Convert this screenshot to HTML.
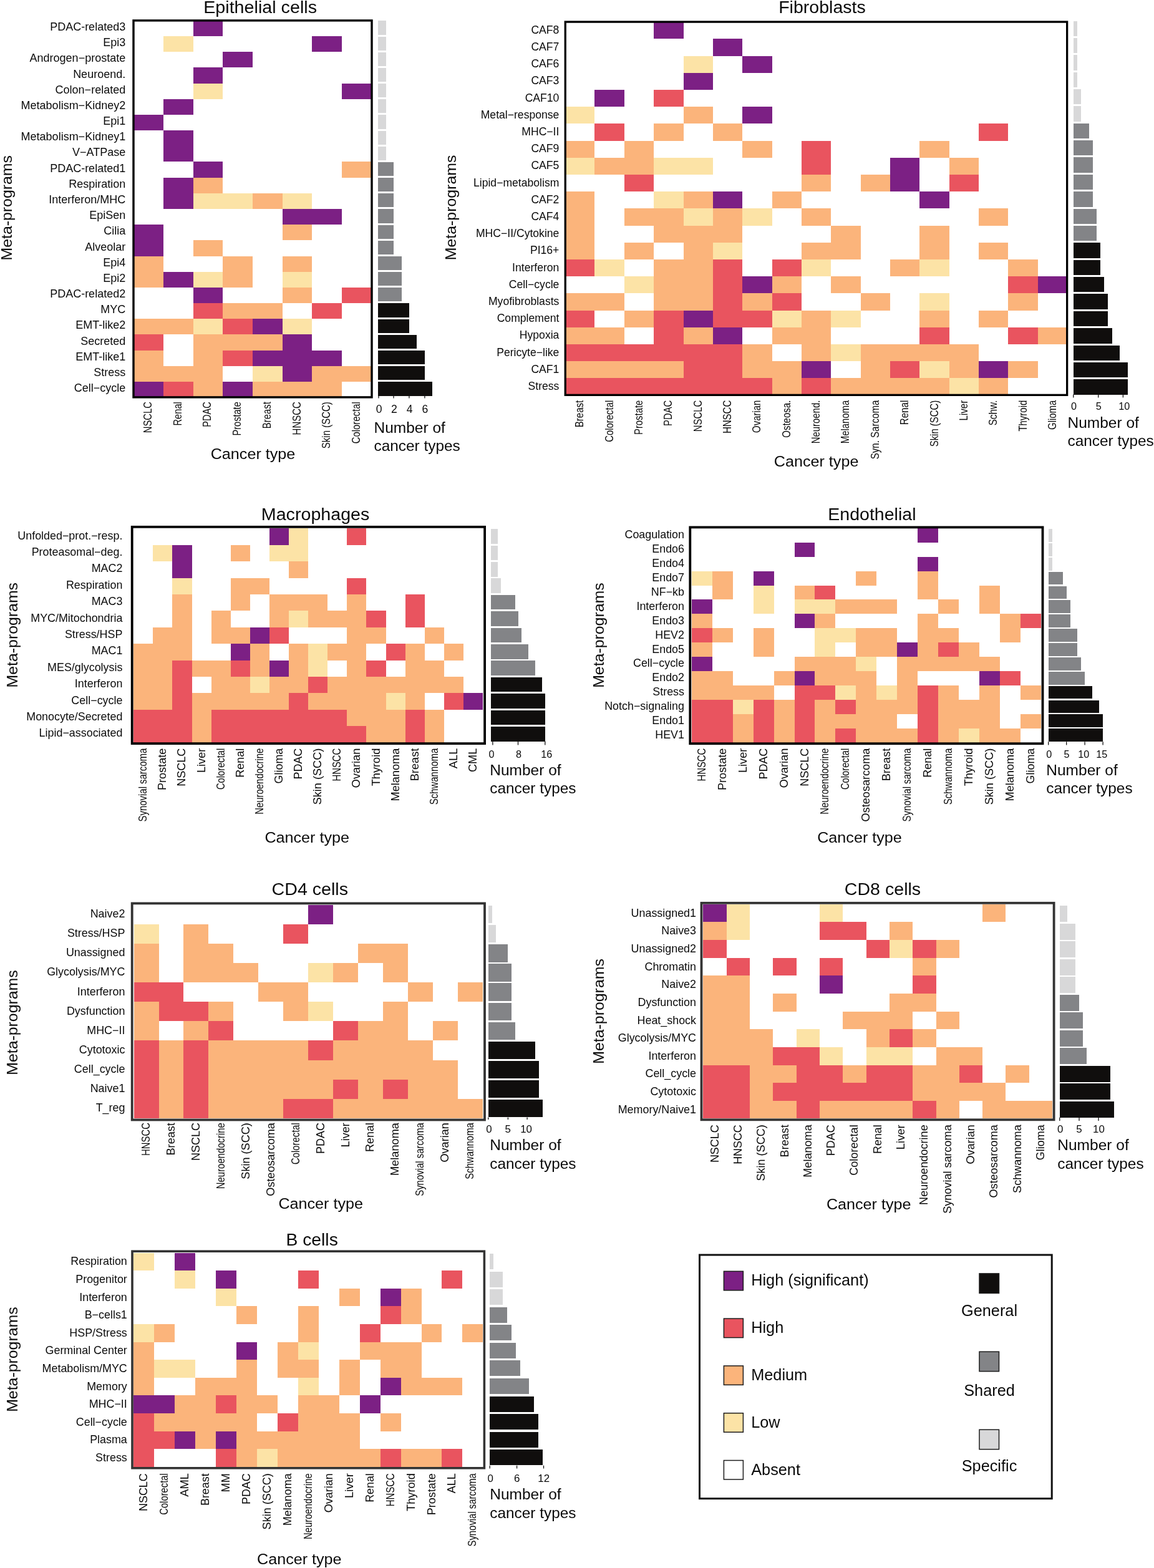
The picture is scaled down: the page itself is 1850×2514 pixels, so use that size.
<!DOCTYPE html>
<html><head><meta charset="utf-8"><title>Meta-programs heatmaps</title>
<style>
html,body{margin:0;padding:0;background:#fff;}
svg{display:block;}
text{font-family:'Liberation Sans', Arial, Helvetica, sans-serif;fill:#0a0a0a;}
</style></head>
<body>
<svg width="1850" height="2514" viewBox="0 0 1850 2514">
<rect width="1850" height="2514" fill="#fff"/>
<rect x="309.54" y="32.80" width="47.72" height="25.18" fill="#7C2084" shape-rendering="crispEdges"/>
<rect x="261.82" y="57.98" width="47.72" height="25.18" fill="#FCE3A6" shape-rendering="crispEdges"/>
<rect x="500.42" y="57.98" width="47.72" height="25.18" fill="#7C2084" shape-rendering="crispEdges"/>
<rect x="357.26" y="83.16" width="47.72" height="25.18" fill="#7C2084" shape-rendering="crispEdges"/>
<rect x="309.54" y="108.34" width="47.72" height="25.18" fill="#7C2084" shape-rendering="crispEdges"/>
<rect x="309.54" y="133.52" width="47.72" height="25.18" fill="#FCE3A6" shape-rendering="crispEdges"/>
<rect x="548.14" y="133.52" width="47.72" height="25.18" fill="#7C2084" shape-rendering="crispEdges"/>
<rect x="261.82" y="158.70" width="47.72" height="25.18" fill="#7C2084" shape-rendering="crispEdges"/>
<rect x="214.10" y="183.88" width="47.72" height="25.18" fill="#7C2084" shape-rendering="crispEdges"/>
<rect x="261.82" y="209.06" width="47.72" height="25.18" fill="#7C2084" shape-rendering="crispEdges"/>
<rect x="261.82" y="234.24" width="47.72" height="25.18" fill="#7C2084" shape-rendering="crispEdges"/>
<rect x="309.54" y="259.42" width="47.72" height="25.18" fill="#7C2084" shape-rendering="crispEdges"/>
<rect x="548.14" y="259.42" width="47.72" height="25.18" fill="#FBB47B" shape-rendering="crispEdges"/>
<rect x="261.82" y="284.60" width="47.72" height="25.18" fill="#7C2084" shape-rendering="crispEdges"/>
<rect x="309.54" y="284.60" width="47.72" height="25.18" fill="#FBB47B" shape-rendering="crispEdges"/>
<rect x="261.82" y="309.78" width="47.72" height="25.18" fill="#7C2084" shape-rendering="crispEdges"/>
<rect x="309.54" y="309.78" width="47.72" height="25.18" fill="#FCE3A6" shape-rendering="crispEdges"/>
<rect x="357.26" y="309.78" width="47.72" height="25.18" fill="#FCE3A6" shape-rendering="crispEdges"/>
<rect x="404.98" y="309.78" width="47.72" height="25.18" fill="#FBB47B" shape-rendering="crispEdges"/>
<rect x="452.70" y="309.78" width="47.72" height="25.18" fill="#FCE3A6" shape-rendering="crispEdges"/>
<rect x="452.70" y="334.96" width="47.72" height="25.18" fill="#7C2084" shape-rendering="crispEdges"/>
<rect x="500.42" y="334.96" width="47.72" height="25.18" fill="#7C2084" shape-rendering="crispEdges"/>
<rect x="214.10" y="360.14" width="47.72" height="25.18" fill="#7C2084" shape-rendering="crispEdges"/>
<rect x="452.70" y="360.14" width="47.72" height="25.18" fill="#FBB47B" shape-rendering="crispEdges"/>
<rect x="214.10" y="385.32" width="47.72" height="25.18" fill="#7C2084" shape-rendering="crispEdges"/>
<rect x="309.54" y="385.32" width="47.72" height="25.18" fill="#FBB47B" shape-rendering="crispEdges"/>
<rect x="214.10" y="410.50" width="47.72" height="25.18" fill="#FBB47B" shape-rendering="crispEdges"/>
<rect x="357.26" y="410.50" width="47.72" height="25.18" fill="#FBB47B" shape-rendering="crispEdges"/>
<rect x="452.70" y="410.50" width="47.72" height="25.18" fill="#FBB47B" shape-rendering="crispEdges"/>
<rect x="214.10" y="435.68" width="47.72" height="25.18" fill="#FBB47B" shape-rendering="crispEdges"/>
<rect x="261.82" y="435.68" width="47.72" height="25.18" fill="#7C2084" shape-rendering="crispEdges"/>
<rect x="309.54" y="435.68" width="47.72" height="25.18" fill="#FCE3A6" shape-rendering="crispEdges"/>
<rect x="357.26" y="435.68" width="47.72" height="25.18" fill="#FBB47B" shape-rendering="crispEdges"/>
<rect x="452.70" y="435.68" width="47.72" height="25.18" fill="#FCE3A6" shape-rendering="crispEdges"/>
<rect x="309.54" y="460.86" width="47.72" height="25.18" fill="#7C2084" shape-rendering="crispEdges"/>
<rect x="452.70" y="460.86" width="47.72" height="25.18" fill="#FBB47B" shape-rendering="crispEdges"/>
<rect x="548.14" y="460.86" width="47.72" height="25.18" fill="#E9545F" shape-rendering="crispEdges"/>
<rect x="309.54" y="486.04" width="47.72" height="25.18" fill="#E9545F" shape-rendering="crispEdges"/>
<rect x="357.26" y="486.04" width="47.72" height="25.18" fill="#FBB47B" shape-rendering="crispEdges"/>
<rect x="404.98" y="486.04" width="47.72" height="25.18" fill="#FBB47B" shape-rendering="crispEdges"/>
<rect x="500.42" y="486.04" width="47.72" height="25.18" fill="#E9545F" shape-rendering="crispEdges"/>
<rect x="214.10" y="511.22" width="47.72" height="25.18" fill="#FBB47B" shape-rendering="crispEdges"/>
<rect x="261.82" y="511.22" width="47.72" height="25.18" fill="#FBB47B" shape-rendering="crispEdges"/>
<rect x="309.54" y="511.22" width="47.72" height="25.18" fill="#FCE3A6" shape-rendering="crispEdges"/>
<rect x="357.26" y="511.22" width="47.72" height="25.18" fill="#E9545F" shape-rendering="crispEdges"/>
<rect x="404.98" y="511.22" width="47.72" height="25.18" fill="#7C2084" shape-rendering="crispEdges"/>
<rect x="452.70" y="511.22" width="47.72" height="25.18" fill="#FCE3A6" shape-rendering="crispEdges"/>
<rect x="214.10" y="536.40" width="47.72" height="25.18" fill="#E9545F" shape-rendering="crispEdges"/>
<rect x="309.54" y="536.40" width="47.72" height="25.18" fill="#FBB47B" shape-rendering="crispEdges"/>
<rect x="357.26" y="536.40" width="47.72" height="25.18" fill="#FBB47B" shape-rendering="crispEdges"/>
<rect x="404.98" y="536.40" width="47.72" height="25.18" fill="#FBB47B" shape-rendering="crispEdges"/>
<rect x="452.70" y="536.40" width="47.72" height="25.18" fill="#7C2084" shape-rendering="crispEdges"/>
<rect x="214.10" y="561.58" width="47.72" height="25.18" fill="#FBB47B" shape-rendering="crispEdges"/>
<rect x="309.54" y="561.58" width="47.72" height="25.18" fill="#FBB47B" shape-rendering="crispEdges"/>
<rect x="357.26" y="561.58" width="47.72" height="25.18" fill="#E9545F" shape-rendering="crispEdges"/>
<rect x="404.98" y="561.58" width="47.72" height="25.18" fill="#7C2084" shape-rendering="crispEdges"/>
<rect x="452.70" y="561.58" width="47.72" height="25.18" fill="#7C2084" shape-rendering="crispEdges"/>
<rect x="500.42" y="561.58" width="47.72" height="25.18" fill="#7C2084" shape-rendering="crispEdges"/>
<rect x="214.10" y="586.76" width="47.72" height="25.18" fill="#FBB47B" shape-rendering="crispEdges"/>
<rect x="261.82" y="586.76" width="47.72" height="25.18" fill="#FBB47B" shape-rendering="crispEdges"/>
<rect x="309.54" y="586.76" width="47.72" height="25.18" fill="#FBB47B" shape-rendering="crispEdges"/>
<rect x="404.98" y="586.76" width="47.72" height="25.18" fill="#FCE3A6" shape-rendering="crispEdges"/>
<rect x="452.70" y="586.76" width="47.72" height="25.18" fill="#7C2084" shape-rendering="crispEdges"/>
<rect x="500.42" y="586.76" width="47.72" height="25.18" fill="#FBB47B" shape-rendering="crispEdges"/>
<rect x="548.14" y="586.76" width="47.72" height="25.18" fill="#FBB47B" shape-rendering="crispEdges"/>
<rect x="214.10" y="611.94" width="47.72" height="25.18" fill="#7C2084" shape-rendering="crispEdges"/>
<rect x="261.82" y="611.94" width="47.72" height="25.18" fill="#E9545F" shape-rendering="crispEdges"/>
<rect x="309.54" y="611.94" width="47.72" height="25.18" fill="#FBB47B" shape-rendering="crispEdges"/>
<rect x="357.26" y="611.94" width="47.72" height="25.18" fill="#7C2084" shape-rendering="crispEdges"/>
<rect x="404.98" y="611.94" width="47.72" height="25.18" fill="#FBB47B" shape-rendering="crispEdges"/>
<rect x="452.70" y="611.94" width="47.72" height="25.18" fill="#FBB47B" shape-rendering="crispEdges"/>
<rect x="500.42" y="611.94" width="47.72" height="25.18" fill="#FBB47B" shape-rendering="crispEdges"/>
<rect x="214.00" y="32.90" width="382.00" height="604.00" fill="none" stroke="#000" stroke-width="3.4"/>
<text x="201.2" y="49.0" font-size="18" text-anchor="end">PDAC-related3</text>
<text x="201.2" y="74.2" font-size="18" text-anchor="end">Epi3</text>
<text x="201.2" y="99.3" font-size="18" text-anchor="end">Androgen−prostate</text>
<text x="201.2" y="124.5" font-size="18" text-anchor="end">Neuroend.</text>
<text x="201.2" y="149.7" font-size="18" text-anchor="end">Colon−related</text>
<text x="201.2" y="174.9" font-size="18" text-anchor="end">Metabolism−Kidney2</text>
<text x="201.2" y="200.1" font-size="18" text-anchor="end">Epi1</text>
<text x="201.2" y="225.2" font-size="18" text-anchor="end">Metabolism−Kidney1</text>
<text x="201.2" y="250.4" font-size="18" text-anchor="end">V−ATPase</text>
<text x="201.2" y="275.6" font-size="18" text-anchor="end">PDAC-related1</text>
<text x="201.2" y="300.8" font-size="18" text-anchor="end">Respiration</text>
<text x="201.2" y="326.0" font-size="18" text-anchor="end">Interferon/MHC</text>
<text x="201.2" y="351.2" font-size="18" text-anchor="end">EpiSen</text>
<text x="201.2" y="376.3" font-size="18" text-anchor="end">Cilia</text>
<text x="201.2" y="401.5" font-size="18" text-anchor="end">Alveolar</text>
<text x="201.2" y="426.7" font-size="18" text-anchor="end">Epi4</text>
<text x="201.2" y="451.9" font-size="18" text-anchor="end">Epi2</text>
<text x="201.2" y="477.1" font-size="18" text-anchor="end">PDAC-related2</text>
<text x="201.2" y="502.2" font-size="18" text-anchor="end">MYC</text>
<text x="201.2" y="527.4" font-size="18" text-anchor="end">EMT-like2</text>
<text x="201.2" y="552.6" font-size="18" text-anchor="end">Secreted</text>
<text x="201.2" y="577.8" font-size="18" text-anchor="end">EMT-like1</text>
<text x="201.2" y="602.9" font-size="18" text-anchor="end">Stress</text>
<text x="201.2" y="628.1" font-size="18" text-anchor="end">Cell−cycle</text>
<text transform="translate(243.0,644.2) rotate(-90)" font-size="18.2" text-anchor="end" textLength="50.0" lengthAdjust="spacingAndGlyphs">NSCLC</text>
<text transform="translate(290.7,644.2) rotate(-90)" font-size="18.2" text-anchor="end" textLength="38.3" lengthAdjust="spacingAndGlyphs">Renal</text>
<text transform="translate(338.4,644.2) rotate(-90)" font-size="18.2" text-anchor="end" textLength="40.5" lengthAdjust="spacingAndGlyphs">PDAC</text>
<text transform="translate(386.1,644.2) rotate(-90)" font-size="18.2" text-anchor="end" textLength="54.4" lengthAdjust="spacingAndGlyphs">Prostate</text>
<text transform="translate(433.8,644.2) rotate(-90)" font-size="18.2" text-anchor="end" textLength="43.0" lengthAdjust="spacingAndGlyphs">Breast</text>
<text transform="translate(481.6,644.2) rotate(-90)" font-size="18.2" text-anchor="end" textLength="53.2" lengthAdjust="spacingAndGlyphs">HNSCC</text>
<text transform="translate(529.3,644.2) rotate(-90)" font-size="18.2" text-anchor="end" textLength="75.0" lengthAdjust="spacingAndGlyphs">Skin (SCC)</text>
<text transform="translate(577.0,644.2) rotate(-90)" font-size="18.2" text-anchor="end" textLength="67.1" lengthAdjust="spacingAndGlyphs">Colorectal</text>
<rect x="606.30" y="33.40" width="12.35" height="22.20" fill="#D8D8D9" shape-rendering="crispEdges"/>
<rect x="606.30" y="58.57" width="12.35" height="22.20" fill="#D8D8D9" shape-rendering="crispEdges"/>
<rect x="606.30" y="83.74" width="12.35" height="22.20" fill="#D8D8D9" shape-rendering="crispEdges"/>
<rect x="606.30" y="108.91" width="12.35" height="22.20" fill="#D8D8D9" shape-rendering="crispEdges"/>
<rect x="606.30" y="134.08" width="12.35" height="22.20" fill="#D8D8D9" shape-rendering="crispEdges"/>
<rect x="606.30" y="159.25" width="12.35" height="22.20" fill="#D8D8D9" shape-rendering="crispEdges"/>
<rect x="606.30" y="184.42" width="12.35" height="22.20" fill="#D8D8D9" shape-rendering="crispEdges"/>
<rect x="606.30" y="209.59" width="12.35" height="22.20" fill="#D8D8D9" shape-rendering="crispEdges"/>
<rect x="606.30" y="234.76" width="12.35" height="22.20" fill="#D8D8D9" shape-rendering="crispEdges"/>
<rect x="606.30" y="259.93" width="24.80" height="22.20" fill="#838487" shape-rendering="crispEdges"/>
<rect x="606.30" y="285.10" width="24.80" height="22.20" fill="#838487" shape-rendering="crispEdges"/>
<rect x="606.30" y="310.27" width="24.80" height="22.20" fill="#838487" shape-rendering="crispEdges"/>
<rect x="606.30" y="335.44" width="24.80" height="22.20" fill="#838487" shape-rendering="crispEdges"/>
<rect x="606.30" y="360.61" width="24.80" height="22.20" fill="#838487" shape-rendering="crispEdges"/>
<rect x="606.30" y="385.78" width="24.80" height="22.20" fill="#838487" shape-rendering="crispEdges"/>
<rect x="606.30" y="410.95" width="37.25" height="22.20" fill="#838487" shape-rendering="crispEdges"/>
<rect x="606.30" y="436.12" width="37.25" height="22.20" fill="#838487" shape-rendering="crispEdges"/>
<rect x="606.30" y="461.29" width="37.25" height="22.20" fill="#838487" shape-rendering="crispEdges"/>
<rect x="606.30" y="486.46" width="49.70" height="22.20" fill="#100E0D" shape-rendering="crispEdges"/>
<rect x="606.30" y="511.63" width="49.70" height="22.20" fill="#100E0D" shape-rendering="crispEdges"/>
<rect x="606.30" y="536.80" width="62.15" height="22.20" fill="#100E0D" shape-rendering="crispEdges"/>
<rect x="606.30" y="561.97" width="74.60" height="22.20" fill="#100E0D" shape-rendering="crispEdges"/>
<rect x="606.30" y="587.14" width="74.60" height="22.20" fill="#100E0D" shape-rendering="crispEdges"/>
<rect x="606.30" y="612.31" width="87.05" height="22.20" fill="#100E0D" shape-rendering="crispEdges"/>
<line x1="607.00" y1="634.00" x2="607.00" y2="638.60" stroke="#111" stroke-width="1.3"/>
<text x="607.6" y="661.5" font-size="17.6" text-anchor="middle">0</text>
<line x1="631.00" y1="634.00" x2="631.00" y2="638.60" stroke="#111" stroke-width="1.3"/>
<text x="632.0" y="661.5" font-size="17.6" text-anchor="middle">2</text>
<line x1="655.90" y1="634.00" x2="655.90" y2="638.60" stroke="#111" stroke-width="1.3"/>
<text x="656.6" y="661.5" font-size="17.6" text-anchor="middle">4</text>
<line x1="680.90" y1="634.00" x2="680.90" y2="638.60" stroke="#111" stroke-width="1.3"/>
<text x="681.5" y="661.5" font-size="17.6" text-anchor="middle">6</text>
<text x="417.1" y="21.1" font-size="28.4" text-anchor="middle" textLength="181.9" lengthAdjust="spacingAndGlyphs">Epithelial cells</text>
<text x="405.5" y="736.4" font-size="24.3" text-anchor="middle" textLength="135.6" lengthAdjust="spacingAndGlyphs">Cancer type</text>
<text x="599.5" y="693.6" font-size="24.2" text-anchor="start" textLength="114.4" lengthAdjust="spacingAndGlyphs">Number of</text>
<text x="599.5" y="722.8" font-size="24.2" text-anchor="start" textLength="138.3" lengthAdjust="spacingAndGlyphs">cancer types</text>
<text transform="translate(18.6,333.3) rotate(-90)" font-size="24.7" text-anchor="middle" textLength="168.5" lengthAdjust="spacingAndGlyphs">Meta-programs</text>
<rect x="1048.15" y="35.10" width="47.35" height="27.20" fill="#7C2084" shape-rendering="crispEdges"/>
<rect x="1142.85" y="62.30" width="47.35" height="27.20" fill="#7C2084" shape-rendering="crispEdges"/>
<rect x="1095.50" y="89.50" width="47.35" height="27.20" fill="#FCE3A6" shape-rendering="crispEdges"/>
<rect x="1190.20" y="89.50" width="47.35" height="27.20" fill="#7C2084" shape-rendering="crispEdges"/>
<rect x="1095.50" y="116.70" width="47.35" height="27.20" fill="#7C2084" shape-rendering="crispEdges"/>
<rect x="953.45" y="143.90" width="47.35" height="27.20" fill="#7C2084" shape-rendering="crispEdges"/>
<rect x="1048.15" y="143.90" width="47.35" height="27.20" fill="#E9545F" shape-rendering="crispEdges"/>
<rect x="906.10" y="171.10" width="47.35" height="27.20" fill="#FCE3A6" shape-rendering="crispEdges"/>
<rect x="1095.50" y="171.10" width="47.35" height="27.20" fill="#FBB47B" shape-rendering="crispEdges"/>
<rect x="1190.20" y="171.10" width="47.35" height="27.20" fill="#7C2084" shape-rendering="crispEdges"/>
<rect x="953.45" y="198.30" width="47.35" height="27.20" fill="#E9545F" shape-rendering="crispEdges"/>
<rect x="1048.15" y="198.30" width="47.35" height="27.20" fill="#FBB47B" shape-rendering="crispEdges"/>
<rect x="1142.85" y="198.30" width="47.35" height="27.20" fill="#FBB47B" shape-rendering="crispEdges"/>
<rect x="1569.00" y="198.30" width="47.35" height="27.20" fill="#E9545F" shape-rendering="crispEdges"/>
<rect x="906.10" y="225.50" width="47.35" height="27.20" fill="#FBB47B" shape-rendering="crispEdges"/>
<rect x="1000.80" y="225.50" width="47.35" height="27.20" fill="#FBB47B" shape-rendering="crispEdges"/>
<rect x="1190.20" y="225.50" width="47.35" height="27.20" fill="#FBB47B" shape-rendering="crispEdges"/>
<rect x="1284.90" y="225.50" width="47.35" height="27.20" fill="#E9545F" shape-rendering="crispEdges"/>
<rect x="1474.30" y="225.50" width="47.35" height="27.20" fill="#FBB47B" shape-rendering="crispEdges"/>
<rect x="906.10" y="252.70" width="47.35" height="27.20" fill="#FCE3A6" shape-rendering="crispEdges"/>
<rect x="953.45" y="252.70" width="47.35" height="27.20" fill="#FBB47B" shape-rendering="crispEdges"/>
<rect x="1000.80" y="252.70" width="47.35" height="27.20" fill="#FBB47B" shape-rendering="crispEdges"/>
<rect x="1048.15" y="252.70" width="47.35" height="27.20" fill="#FCE3A6" shape-rendering="crispEdges"/>
<rect x="1095.50" y="252.70" width="47.35" height="27.20" fill="#FCE3A6" shape-rendering="crispEdges"/>
<rect x="1284.90" y="252.70" width="47.35" height="27.20" fill="#E9545F" shape-rendering="crispEdges"/>
<rect x="1426.95" y="252.70" width="47.35" height="27.20" fill="#7C2084" shape-rendering="crispEdges"/>
<rect x="1521.65" y="252.70" width="47.35" height="27.20" fill="#FBB47B" shape-rendering="crispEdges"/>
<rect x="1000.80" y="279.90" width="47.35" height="27.20" fill="#E9545F" shape-rendering="crispEdges"/>
<rect x="1284.90" y="279.90" width="47.35" height="27.20" fill="#FBB47B" shape-rendering="crispEdges"/>
<rect x="1379.60" y="279.90" width="47.35" height="27.20" fill="#FBB47B" shape-rendering="crispEdges"/>
<rect x="1426.95" y="279.90" width="47.35" height="27.20" fill="#7C2084" shape-rendering="crispEdges"/>
<rect x="1521.65" y="279.90" width="47.35" height="27.20" fill="#E9545F" shape-rendering="crispEdges"/>
<rect x="906.10" y="307.10" width="47.35" height="27.20" fill="#FBB47B" shape-rendering="crispEdges"/>
<rect x="1048.15" y="307.10" width="47.35" height="27.20" fill="#FCE3A6" shape-rendering="crispEdges"/>
<rect x="1095.50" y="307.10" width="47.35" height="27.20" fill="#FBB47B" shape-rendering="crispEdges"/>
<rect x="1142.85" y="307.10" width="47.35" height="27.20" fill="#7C2084" shape-rendering="crispEdges"/>
<rect x="1237.55" y="307.10" width="47.35" height="27.20" fill="#FBB47B" shape-rendering="crispEdges"/>
<rect x="1474.30" y="307.10" width="47.35" height="27.20" fill="#7C2084" shape-rendering="crispEdges"/>
<rect x="906.10" y="334.30" width="47.35" height="27.20" fill="#FBB47B" shape-rendering="crispEdges"/>
<rect x="1000.80" y="334.30" width="47.35" height="27.20" fill="#FBB47B" shape-rendering="crispEdges"/>
<rect x="1048.15" y="334.30" width="47.35" height="27.20" fill="#FBB47B" shape-rendering="crispEdges"/>
<rect x="1095.50" y="334.30" width="47.35" height="27.20" fill="#FCE3A6" shape-rendering="crispEdges"/>
<rect x="1142.85" y="334.30" width="47.35" height="27.20" fill="#FBB47B" shape-rendering="crispEdges"/>
<rect x="1190.20" y="334.30" width="47.35" height="27.20" fill="#FCE3A6" shape-rendering="crispEdges"/>
<rect x="1284.90" y="334.30" width="47.35" height="27.20" fill="#FBB47B" shape-rendering="crispEdges"/>
<rect x="1569.00" y="334.30" width="47.35" height="27.20" fill="#FBB47B" shape-rendering="crispEdges"/>
<rect x="906.10" y="361.50" width="47.35" height="27.20" fill="#FBB47B" shape-rendering="crispEdges"/>
<rect x="1048.15" y="361.50" width="47.35" height="27.20" fill="#FBB47B" shape-rendering="crispEdges"/>
<rect x="1095.50" y="361.50" width="47.35" height="27.20" fill="#FBB47B" shape-rendering="crispEdges"/>
<rect x="1142.85" y="361.50" width="47.35" height="27.20" fill="#FBB47B" shape-rendering="crispEdges"/>
<rect x="1332.25" y="361.50" width="47.35" height="27.20" fill="#FBB47B" shape-rendering="crispEdges"/>
<rect x="1474.30" y="361.50" width="47.35" height="27.20" fill="#FBB47B" shape-rendering="crispEdges"/>
<rect x="906.10" y="388.70" width="47.35" height="27.20" fill="#FBB47B" shape-rendering="crispEdges"/>
<rect x="1000.80" y="388.70" width="47.35" height="27.20" fill="#FBB47B" shape-rendering="crispEdges"/>
<rect x="1095.50" y="388.70" width="47.35" height="27.20" fill="#FBB47B" shape-rendering="crispEdges"/>
<rect x="1142.85" y="388.70" width="47.35" height="27.20" fill="#FCE3A6" shape-rendering="crispEdges"/>
<rect x="1284.90" y="388.70" width="47.35" height="27.20" fill="#FBB47B" shape-rendering="crispEdges"/>
<rect x="1332.25" y="388.70" width="47.35" height="27.20" fill="#FBB47B" shape-rendering="crispEdges"/>
<rect x="1474.30" y="388.70" width="47.35" height="27.20" fill="#FBB47B" shape-rendering="crispEdges"/>
<rect x="1569.00" y="388.70" width="47.35" height="27.20" fill="#FBB47B" shape-rendering="crispEdges"/>
<rect x="906.10" y="415.90" width="47.35" height="27.20" fill="#E9545F" shape-rendering="crispEdges"/>
<rect x="953.45" y="415.90" width="47.35" height="27.20" fill="#FCE3A6" shape-rendering="crispEdges"/>
<rect x="1048.15" y="415.90" width="47.35" height="27.20" fill="#FBB47B" shape-rendering="crispEdges"/>
<rect x="1095.50" y="415.90" width="47.35" height="27.20" fill="#FBB47B" shape-rendering="crispEdges"/>
<rect x="1142.85" y="415.90" width="47.35" height="27.20" fill="#E9545F" shape-rendering="crispEdges"/>
<rect x="1237.55" y="415.90" width="47.35" height="27.20" fill="#E9545F" shape-rendering="crispEdges"/>
<rect x="1284.90" y="415.90" width="47.35" height="27.20" fill="#FCE3A6" shape-rendering="crispEdges"/>
<rect x="1426.95" y="415.90" width="47.35" height="27.20" fill="#FBB47B" shape-rendering="crispEdges"/>
<rect x="1474.30" y="415.90" width="47.35" height="27.20" fill="#FCE3A6" shape-rendering="crispEdges"/>
<rect x="1616.35" y="415.90" width="47.35" height="27.20" fill="#FBB47B" shape-rendering="crispEdges"/>
<rect x="1000.80" y="443.10" width="47.35" height="27.20" fill="#FCE3A6" shape-rendering="crispEdges"/>
<rect x="1048.15" y="443.10" width="47.35" height="27.20" fill="#FBB47B" shape-rendering="crispEdges"/>
<rect x="1095.50" y="443.10" width="47.35" height="27.20" fill="#FBB47B" shape-rendering="crispEdges"/>
<rect x="1142.85" y="443.10" width="47.35" height="27.20" fill="#E9545F" shape-rendering="crispEdges"/>
<rect x="1190.20" y="443.10" width="47.35" height="27.20" fill="#7C2084" shape-rendering="crispEdges"/>
<rect x="1237.55" y="443.10" width="47.35" height="27.20" fill="#FBB47B" shape-rendering="crispEdges"/>
<rect x="1332.25" y="443.10" width="47.35" height="27.20" fill="#FBB47B" shape-rendering="crispEdges"/>
<rect x="1616.35" y="443.10" width="47.35" height="27.20" fill="#E9545F" shape-rendering="crispEdges"/>
<rect x="1663.70" y="443.10" width="47.35" height="27.20" fill="#7C2084" shape-rendering="crispEdges"/>
<rect x="906.10" y="470.30" width="47.35" height="27.20" fill="#FBB47B" shape-rendering="crispEdges"/>
<rect x="953.45" y="470.30" width="47.35" height="27.20" fill="#FBB47B" shape-rendering="crispEdges"/>
<rect x="1048.15" y="470.30" width="47.35" height="27.20" fill="#FBB47B" shape-rendering="crispEdges"/>
<rect x="1095.50" y="470.30" width="47.35" height="27.20" fill="#FBB47B" shape-rendering="crispEdges"/>
<rect x="1142.85" y="470.30" width="47.35" height="27.20" fill="#E9545F" shape-rendering="crispEdges"/>
<rect x="1190.20" y="470.30" width="47.35" height="27.20" fill="#FBB47B" shape-rendering="crispEdges"/>
<rect x="1237.55" y="470.30" width="47.35" height="27.20" fill="#E9545F" shape-rendering="crispEdges"/>
<rect x="1379.60" y="470.30" width="47.35" height="27.20" fill="#FBB47B" shape-rendering="crispEdges"/>
<rect x="1474.30" y="470.30" width="47.35" height="27.20" fill="#FCE3A6" shape-rendering="crispEdges"/>
<rect x="1616.35" y="470.30" width="47.35" height="27.20" fill="#FBB47B" shape-rendering="crispEdges"/>
<rect x="906.10" y="497.50" width="47.35" height="27.20" fill="#E9545F" shape-rendering="crispEdges"/>
<rect x="1000.80" y="497.50" width="47.35" height="27.20" fill="#FBB47B" shape-rendering="crispEdges"/>
<rect x="1048.15" y="497.50" width="47.35" height="27.20" fill="#E9545F" shape-rendering="crispEdges"/>
<rect x="1095.50" y="497.50" width="47.35" height="27.20" fill="#7C2084" shape-rendering="crispEdges"/>
<rect x="1142.85" y="497.50" width="47.35" height="27.20" fill="#E9545F" shape-rendering="crispEdges"/>
<rect x="1190.20" y="497.50" width="47.35" height="27.20" fill="#E9545F" shape-rendering="crispEdges"/>
<rect x="1237.55" y="497.50" width="47.35" height="27.20" fill="#FCE3A6" shape-rendering="crispEdges"/>
<rect x="1284.90" y="497.50" width="47.35" height="27.20" fill="#FBB47B" shape-rendering="crispEdges"/>
<rect x="1332.25" y="497.50" width="47.35" height="27.20" fill="#FCE3A6" shape-rendering="crispEdges"/>
<rect x="1474.30" y="497.50" width="47.35" height="27.20" fill="#FBB47B" shape-rendering="crispEdges"/>
<rect x="1569.00" y="497.50" width="47.35" height="27.20" fill="#FBB47B" shape-rendering="crispEdges"/>
<rect x="906.10" y="524.70" width="47.35" height="27.20" fill="#FBB47B" shape-rendering="crispEdges"/>
<rect x="953.45" y="524.70" width="47.35" height="27.20" fill="#FBB47B" shape-rendering="crispEdges"/>
<rect x="1048.15" y="524.70" width="47.35" height="27.20" fill="#E9545F" shape-rendering="crispEdges"/>
<rect x="1095.50" y="524.70" width="47.35" height="27.20" fill="#FBB47B" shape-rendering="crispEdges"/>
<rect x="1142.85" y="524.70" width="47.35" height="27.20" fill="#7C2084" shape-rendering="crispEdges"/>
<rect x="1237.55" y="524.70" width="47.35" height="27.20" fill="#FBB47B" shape-rendering="crispEdges"/>
<rect x="1284.90" y="524.70" width="47.35" height="27.20" fill="#FBB47B" shape-rendering="crispEdges"/>
<rect x="1474.30" y="524.70" width="47.35" height="27.20" fill="#E9545F" shape-rendering="crispEdges"/>
<rect x="1616.35" y="524.70" width="47.35" height="27.20" fill="#E9545F" shape-rendering="crispEdges"/>
<rect x="1663.70" y="524.70" width="47.35" height="27.20" fill="#FBB47B" shape-rendering="crispEdges"/>
<rect x="906.10" y="551.90" width="47.35" height="27.20" fill="#E9545F" shape-rendering="crispEdges"/>
<rect x="953.45" y="551.90" width="47.35" height="27.20" fill="#E9545F" shape-rendering="crispEdges"/>
<rect x="1000.80" y="551.90" width="47.35" height="27.20" fill="#E9545F" shape-rendering="crispEdges"/>
<rect x="1048.15" y="551.90" width="47.35" height="27.20" fill="#E9545F" shape-rendering="crispEdges"/>
<rect x="1095.50" y="551.90" width="47.35" height="27.20" fill="#E9545F" shape-rendering="crispEdges"/>
<rect x="1142.85" y="551.90" width="47.35" height="27.20" fill="#E9545F" shape-rendering="crispEdges"/>
<rect x="1190.20" y="551.90" width="47.35" height="27.20" fill="#FBB47B" shape-rendering="crispEdges"/>
<rect x="1284.90" y="551.90" width="47.35" height="27.20" fill="#FBB47B" shape-rendering="crispEdges"/>
<rect x="1332.25" y="551.90" width="47.35" height="27.20" fill="#FCE3A6" shape-rendering="crispEdges"/>
<rect x="1379.60" y="551.90" width="47.35" height="27.20" fill="#FBB47B" shape-rendering="crispEdges"/>
<rect x="1426.95" y="551.90" width="47.35" height="27.20" fill="#FBB47B" shape-rendering="crispEdges"/>
<rect x="1474.30" y="551.90" width="47.35" height="27.20" fill="#FBB47B" shape-rendering="crispEdges"/>
<rect x="1521.65" y="551.90" width="47.35" height="27.20" fill="#FBB47B" shape-rendering="crispEdges"/>
<rect x="906.10" y="579.10" width="47.35" height="27.20" fill="#FBB47B" shape-rendering="crispEdges"/>
<rect x="953.45" y="579.10" width="47.35" height="27.20" fill="#FBB47B" shape-rendering="crispEdges"/>
<rect x="1000.80" y="579.10" width="47.35" height="27.20" fill="#FBB47B" shape-rendering="crispEdges"/>
<rect x="1048.15" y="579.10" width="47.35" height="27.20" fill="#FBB47B" shape-rendering="crispEdges"/>
<rect x="1095.50" y="579.10" width="47.35" height="27.20" fill="#E9545F" shape-rendering="crispEdges"/>
<rect x="1142.85" y="579.10" width="47.35" height="27.20" fill="#E9545F" shape-rendering="crispEdges"/>
<rect x="1190.20" y="579.10" width="47.35" height="27.20" fill="#FBB47B" shape-rendering="crispEdges"/>
<rect x="1237.55" y="579.10" width="47.35" height="27.20" fill="#FBB47B" shape-rendering="crispEdges"/>
<rect x="1284.90" y="579.10" width="47.35" height="27.20" fill="#7C2084" shape-rendering="crispEdges"/>
<rect x="1379.60" y="579.10" width="47.35" height="27.20" fill="#FBB47B" shape-rendering="crispEdges"/>
<rect x="1426.95" y="579.10" width="47.35" height="27.20" fill="#E9545F" shape-rendering="crispEdges"/>
<rect x="1474.30" y="579.10" width="47.35" height="27.20" fill="#FCE3A6" shape-rendering="crispEdges"/>
<rect x="1521.65" y="579.10" width="47.35" height="27.20" fill="#FBB47B" shape-rendering="crispEdges"/>
<rect x="1569.00" y="579.10" width="47.35" height="27.20" fill="#7C2084" shape-rendering="crispEdges"/>
<rect x="1616.35" y="579.10" width="47.35" height="27.20" fill="#FBB47B" shape-rendering="crispEdges"/>
<rect x="906.10" y="606.30" width="47.35" height="27.20" fill="#E9545F" shape-rendering="crispEdges"/>
<rect x="953.45" y="606.30" width="47.35" height="27.20" fill="#E9545F" shape-rendering="crispEdges"/>
<rect x="1000.80" y="606.30" width="47.35" height="27.20" fill="#E9545F" shape-rendering="crispEdges"/>
<rect x="1048.15" y="606.30" width="47.35" height="27.20" fill="#E9545F" shape-rendering="crispEdges"/>
<rect x="1095.50" y="606.30" width="47.35" height="27.20" fill="#E9545F" shape-rendering="crispEdges"/>
<rect x="1142.85" y="606.30" width="47.35" height="27.20" fill="#E9545F" shape-rendering="crispEdges"/>
<rect x="1190.20" y="606.30" width="47.35" height="27.20" fill="#E9545F" shape-rendering="crispEdges"/>
<rect x="1237.55" y="606.30" width="47.35" height="27.20" fill="#FBB47B" shape-rendering="crispEdges"/>
<rect x="1284.90" y="606.30" width="47.35" height="27.20" fill="#E9545F" shape-rendering="crispEdges"/>
<rect x="1332.25" y="606.30" width="47.35" height="27.20" fill="#FBB47B" shape-rendering="crispEdges"/>
<rect x="1379.60" y="606.30" width="47.35" height="27.20" fill="#FBB47B" shape-rendering="crispEdges"/>
<rect x="1426.95" y="606.30" width="47.35" height="27.20" fill="#FBB47B" shape-rendering="crispEdges"/>
<rect x="1474.30" y="606.30" width="47.35" height="27.20" fill="#FBB47B" shape-rendering="crispEdges"/>
<rect x="1521.65" y="606.30" width="47.35" height="27.20" fill="#FCE3A6" shape-rendering="crispEdges"/>
<rect x="1569.00" y="606.30" width="47.35" height="27.20" fill="#FBB47B" shape-rendering="crispEdges"/>
<rect x="906.25" y="35.05" width="804.40" height="598.30" fill="none" stroke="#000" stroke-width="3.3"/>
<text x="896.4" y="53.7" font-size="17.6" text-anchor="end">CAF8</text>
<text x="896.4" y="80.9" font-size="17.6" text-anchor="end">CAF7</text>
<text x="896.4" y="108.1" font-size="17.6" text-anchor="end">CAF6</text>
<text x="896.4" y="135.3" font-size="17.6" text-anchor="end">CAF3</text>
<text x="896.4" y="162.5" font-size="17.6" text-anchor="end">CAF10</text>
<text x="896.4" y="189.7" font-size="17.6" text-anchor="end">Metal−response</text>
<text x="896.4" y="216.9" font-size="17.6" text-anchor="end">MHC−II</text>
<text x="896.4" y="244.1" font-size="17.6" text-anchor="end">CAF9</text>
<text x="896.4" y="271.3" font-size="17.6" text-anchor="end">CAF5</text>
<text x="896.4" y="298.5" font-size="17.6" text-anchor="end">Lipid−metabolism</text>
<text x="896.4" y="325.7" font-size="17.6" text-anchor="end">CAF2</text>
<text x="896.4" y="352.9" font-size="17.6" text-anchor="end">CAF4</text>
<text x="896.4" y="380.1" font-size="17.6" text-anchor="end">MHC−II/Cytokine</text>
<text x="896.4" y="407.3" font-size="17.6" text-anchor="end">PI16+</text>
<text x="896.4" y="434.5" font-size="17.6" text-anchor="end">Interferon</text>
<text x="896.4" y="461.7" font-size="17.6" text-anchor="end">Cell−cycle</text>
<text x="896.4" y="488.9" font-size="17.6" text-anchor="end">Myofibroblasts</text>
<text x="896.4" y="516.1" font-size="17.6" text-anchor="end">Complement</text>
<text x="896.4" y="543.3" font-size="17.6" text-anchor="end">Hypoxia</text>
<text x="896.4" y="570.5" font-size="17.6" text-anchor="end">Pericyte−like</text>
<text x="896.4" y="597.7" font-size="17.6" text-anchor="end">CAF1</text>
<text x="896.4" y="624.9" font-size="17.6" text-anchor="end">Stress</text>
<text transform="translate(935.3,641.7) rotate(-90)" font-size="18.2" text-anchor="end" textLength="43.5" lengthAdjust="spacingAndGlyphs">Breast</text>
<text transform="translate(982.6,641.7) rotate(-90)" font-size="18.2" text-anchor="end" textLength="67.1" lengthAdjust="spacingAndGlyphs">Colorectal</text>
<text transform="translate(1030.0,641.7) rotate(-90)" font-size="18.2" text-anchor="end" textLength="55.3" lengthAdjust="spacingAndGlyphs">Prostate</text>
<text transform="translate(1077.3,641.7) rotate(-90)" font-size="18.2" text-anchor="end" textLength="41.2" lengthAdjust="spacingAndGlyphs">PDAC</text>
<text transform="translate(1124.7,641.7) rotate(-90)" font-size="18.2" text-anchor="end" textLength="50.6" lengthAdjust="spacingAndGlyphs">NSCLC</text>
<text transform="translate(1172.0,641.7) rotate(-90)" font-size="18.2" text-anchor="end" textLength="53.4" lengthAdjust="spacingAndGlyphs">HNSCC</text>
<text transform="translate(1219.4,641.7) rotate(-90)" font-size="18.2" text-anchor="end" textLength="52.2" lengthAdjust="spacingAndGlyphs">Ovarian</text>
<text transform="translate(1266.7,641.7) rotate(-90)" font-size="18.2" text-anchor="end" textLength="60.0" lengthAdjust="spacingAndGlyphs">Osteosa.</text>
<text transform="translate(1314.1,641.7) rotate(-90)" font-size="18.2" text-anchor="end" textLength="69.5" lengthAdjust="spacingAndGlyphs">Neuroend.</text>
<text transform="translate(1361.4,641.7) rotate(-90)" font-size="18.2" text-anchor="end" textLength="69.5" lengthAdjust="spacingAndGlyphs">Melanoma</text>
<text transform="translate(1408.8,641.7) rotate(-90)" font-size="18.2" text-anchor="end" textLength="94.5" lengthAdjust="spacingAndGlyphs">Syn. Sarcoma</text>
<text transform="translate(1456.1,641.7) rotate(-90)" font-size="18.2" text-anchor="end" textLength="39.6" lengthAdjust="spacingAndGlyphs">Renal</text>
<text transform="translate(1503.5,641.7) rotate(-90)" font-size="18.2" text-anchor="end" textLength="74.6" lengthAdjust="spacingAndGlyphs">Skin (SCC)</text>
<text transform="translate(1550.8,641.7) rotate(-90)" font-size="18.2" text-anchor="end" textLength="32.8" lengthAdjust="spacingAndGlyphs">Liver</text>
<text transform="translate(1598.2,641.7) rotate(-90)" font-size="18.2" text-anchor="end" textLength="40.6" lengthAdjust="spacingAndGlyphs">Schw.</text>
<text transform="translate(1645.5,641.7) rotate(-90)" font-size="18.2" text-anchor="end" textLength="49.9" lengthAdjust="spacingAndGlyphs">Thyroid</text>
<text transform="translate(1692.9,641.7) rotate(-90)" font-size="18.2" text-anchor="end" textLength="47.2" lengthAdjust="spacingAndGlyphs">Glioma</text>
<rect x="1720.80" y="33.50" width="5.90" height="24.40" fill="#D8D8D9" shape-rendering="crispEdges"/>
<rect x="1720.80" y="60.87" width="5.90" height="24.40" fill="#D8D8D9" shape-rendering="crispEdges"/>
<rect x="1720.80" y="88.24" width="5.90" height="24.40" fill="#D8D8D9" shape-rendering="crispEdges"/>
<rect x="1720.80" y="115.61" width="5.90" height="24.40" fill="#D8D8D9" shape-rendering="crispEdges"/>
<rect x="1720.80" y="142.98" width="12.00" height="24.40" fill="#D8D8D9" shape-rendering="crispEdges"/>
<rect x="1720.80" y="170.35" width="12.00" height="24.40" fill="#D8D8D9" shape-rendering="crispEdges"/>
<rect x="1720.80" y="197.72" width="24.80" height="24.40" fill="#838487" shape-rendering="crispEdges"/>
<rect x="1720.80" y="225.09" width="31.00" height="24.40" fill="#838487" shape-rendering="crispEdges"/>
<rect x="1720.80" y="252.46" width="31.00" height="24.40" fill="#838487" shape-rendering="crispEdges"/>
<rect x="1720.80" y="279.83" width="31.00" height="24.40" fill="#838487" shape-rendering="crispEdges"/>
<rect x="1720.80" y="307.20" width="31.00" height="24.40" fill="#838487" shape-rendering="crispEdges"/>
<rect x="1720.80" y="334.57" width="36.90" height="24.40" fill="#838487" shape-rendering="crispEdges"/>
<rect x="1720.80" y="361.94" width="36.90" height="24.40" fill="#838487" shape-rendering="crispEdges"/>
<rect x="1720.80" y="389.31" width="42.90" height="24.40" fill="#100E0D" shape-rendering="crispEdges"/>
<rect x="1720.80" y="416.68" width="42.90" height="24.40" fill="#100E0D" shape-rendering="crispEdges"/>
<rect x="1720.80" y="444.05" width="49.20" height="24.40" fill="#100E0D" shape-rendering="crispEdges"/>
<rect x="1720.80" y="471.42" width="55.40" height="24.40" fill="#100E0D" shape-rendering="crispEdges"/>
<rect x="1720.80" y="498.79" width="55.40" height="24.40" fill="#100E0D" shape-rendering="crispEdges"/>
<rect x="1720.80" y="526.16" width="61.70" height="24.40" fill="#100E0D" shape-rendering="crispEdges"/>
<rect x="1720.80" y="553.53" width="74.20" height="24.40" fill="#100E0D" shape-rendering="crispEdges"/>
<rect x="1720.80" y="580.90" width="86.70" height="24.40" fill="#100E0D" shape-rendering="crispEdges"/>
<rect x="1720.80" y="608.27" width="86.70" height="24.40" fill="#100E0D" shape-rendering="crispEdges"/>
<line x1="1720.80" y1="632.40" x2="1720.80" y2="637.40" stroke="#111" stroke-width="1.3"/>
<text x="1721.5" y="657.3" font-size="16.2" text-anchor="middle">0</text>
<line x1="1760.70" y1="632.40" x2="1760.70" y2="637.40" stroke="#111" stroke-width="1.3"/>
<text x="1761.2" y="657.3" font-size="16.2" text-anchor="middle">5</text>
<line x1="1800.40" y1="632.40" x2="1800.40" y2="637.40" stroke="#111" stroke-width="1.3"/>
<text x="1802.3" y="657.3" font-size="16.2" text-anchor="middle">10</text>
<text x="1318.0" y="20.7" font-size="28.4" text-anchor="middle" textLength="139.7" lengthAdjust="spacingAndGlyphs">Fibroblasts</text>
<text x="1308.6" y="747.5" font-size="24.3" text-anchor="middle" textLength="135.6" lengthAdjust="spacingAndGlyphs">Cancer type</text>
<text x="1711.5" y="686.3" font-size="24.2" text-anchor="start" textLength="114.4" lengthAdjust="spacingAndGlyphs">Number of</text>
<text x="1711.5" y="715.4" font-size="24.2" text-anchor="start" textLength="138.3" lengthAdjust="spacingAndGlyphs">cancer types</text>
<text transform="translate(730.5,332.9) rotate(-90)" font-size="24.7" text-anchor="middle" textLength="168.5" lengthAdjust="spacingAndGlyphs">Meta-programs</text>
<rect x="431.90" y="847.40" width="31.10" height="26.40" fill="#7C2084" shape-rendering="crispEdges"/>
<rect x="463.00" y="847.40" width="31.10" height="26.40" fill="#FCE3A6" shape-rendering="crispEdges"/>
<rect x="556.30" y="847.40" width="31.10" height="26.40" fill="#E9545F" shape-rendering="crispEdges"/>
<rect x="245.30" y="873.80" width="31.10" height="26.40" fill="#FCE3A6" shape-rendering="crispEdges"/>
<rect x="276.40" y="873.80" width="31.10" height="26.40" fill="#7C2084" shape-rendering="crispEdges"/>
<rect x="369.70" y="873.80" width="31.10" height="26.40" fill="#FBB47B" shape-rendering="crispEdges"/>
<rect x="431.90" y="873.80" width="31.10" height="26.40" fill="#FCE3A6" shape-rendering="crispEdges"/>
<rect x="463.00" y="873.80" width="31.10" height="26.40" fill="#FCE3A6" shape-rendering="crispEdges"/>
<rect x="276.40" y="900.20" width="31.10" height="26.40" fill="#7C2084" shape-rendering="crispEdges"/>
<rect x="463.00" y="900.20" width="31.10" height="26.40" fill="#FBB47B" shape-rendering="crispEdges"/>
<rect x="276.40" y="926.60" width="31.10" height="26.40" fill="#FCE3A6" shape-rendering="crispEdges"/>
<rect x="369.70" y="926.60" width="31.10" height="26.40" fill="#FBB47B" shape-rendering="crispEdges"/>
<rect x="400.80" y="926.60" width="31.10" height="26.40" fill="#FBB47B" shape-rendering="crispEdges"/>
<rect x="556.30" y="926.60" width="31.10" height="26.40" fill="#E9545F" shape-rendering="crispEdges"/>
<rect x="276.40" y="953.00" width="31.10" height="26.40" fill="#FBB47B" shape-rendering="crispEdges"/>
<rect x="369.70" y="953.00" width="31.10" height="26.40" fill="#FBB47B" shape-rendering="crispEdges"/>
<rect x="431.90" y="953.00" width="31.10" height="26.40" fill="#FBB47B" shape-rendering="crispEdges"/>
<rect x="463.00" y="953.00" width="31.10" height="26.40" fill="#FBB47B" shape-rendering="crispEdges"/>
<rect x="494.10" y="953.00" width="31.10" height="26.40" fill="#FBB47B" shape-rendering="crispEdges"/>
<rect x="556.30" y="953.00" width="31.10" height="26.40" fill="#FBB47B" shape-rendering="crispEdges"/>
<rect x="649.60" y="953.00" width="31.10" height="26.40" fill="#E9545F" shape-rendering="crispEdges"/>
<rect x="276.40" y="979.40" width="31.10" height="26.40" fill="#FBB47B" shape-rendering="crispEdges"/>
<rect x="338.60" y="979.40" width="31.10" height="26.40" fill="#FBB47B" shape-rendering="crispEdges"/>
<rect x="431.90" y="979.40" width="31.10" height="26.40" fill="#FBB47B" shape-rendering="crispEdges"/>
<rect x="463.00" y="979.40" width="31.10" height="26.40" fill="#FCE3A6" shape-rendering="crispEdges"/>
<rect x="494.10" y="979.40" width="31.10" height="26.40" fill="#FBB47B" shape-rendering="crispEdges"/>
<rect x="525.20" y="979.40" width="31.10" height="26.40" fill="#FBB47B" shape-rendering="crispEdges"/>
<rect x="556.30" y="979.40" width="31.10" height="26.40" fill="#FBB47B" shape-rendering="crispEdges"/>
<rect x="587.40" y="979.40" width="31.10" height="26.40" fill="#E9545F" shape-rendering="crispEdges"/>
<rect x="649.60" y="979.40" width="31.10" height="26.40" fill="#E9545F" shape-rendering="crispEdges"/>
<rect x="245.30" y="1005.80" width="31.10" height="26.40" fill="#FBB47B" shape-rendering="crispEdges"/>
<rect x="276.40" y="1005.80" width="31.10" height="26.40" fill="#FBB47B" shape-rendering="crispEdges"/>
<rect x="338.60" y="1005.80" width="31.10" height="26.40" fill="#FBB47B" shape-rendering="crispEdges"/>
<rect x="369.70" y="1005.80" width="31.10" height="26.40" fill="#FBB47B" shape-rendering="crispEdges"/>
<rect x="400.80" y="1005.80" width="31.10" height="26.40" fill="#7C2084" shape-rendering="crispEdges"/>
<rect x="431.90" y="1005.80" width="31.10" height="26.40" fill="#E9545F" shape-rendering="crispEdges"/>
<rect x="556.30" y="1005.80" width="31.10" height="26.40" fill="#FBB47B" shape-rendering="crispEdges"/>
<rect x="587.40" y="1005.80" width="31.10" height="26.40" fill="#FBB47B" shape-rendering="crispEdges"/>
<rect x="680.70" y="1005.80" width="31.10" height="26.40" fill="#FBB47B" shape-rendering="crispEdges"/>
<rect x="214.20" y="1032.20" width="31.10" height="26.40" fill="#FBB47B" shape-rendering="crispEdges"/>
<rect x="245.30" y="1032.20" width="31.10" height="26.40" fill="#FBB47B" shape-rendering="crispEdges"/>
<rect x="276.40" y="1032.20" width="31.10" height="26.40" fill="#FBB47B" shape-rendering="crispEdges"/>
<rect x="369.70" y="1032.20" width="31.10" height="26.40" fill="#7C2084" shape-rendering="crispEdges"/>
<rect x="400.80" y="1032.20" width="31.10" height="26.40" fill="#FBB47B" shape-rendering="crispEdges"/>
<rect x="463.00" y="1032.20" width="31.10" height="26.40" fill="#FBB47B" shape-rendering="crispEdges"/>
<rect x="494.10" y="1032.20" width="31.10" height="26.40" fill="#FCE3A6" shape-rendering="crispEdges"/>
<rect x="525.20" y="1032.20" width="31.10" height="26.40" fill="#FBB47B" shape-rendering="crispEdges"/>
<rect x="556.30" y="1032.20" width="31.10" height="26.40" fill="#FBB47B" shape-rendering="crispEdges"/>
<rect x="618.50" y="1032.20" width="31.10" height="26.40" fill="#E9545F" shape-rendering="crispEdges"/>
<rect x="649.60" y="1032.20" width="31.10" height="26.40" fill="#FBB47B" shape-rendering="crispEdges"/>
<rect x="711.80" y="1032.20" width="31.10" height="26.40" fill="#FBB47B" shape-rendering="crispEdges"/>
<rect x="214.20" y="1058.60" width="31.10" height="26.40" fill="#FBB47B" shape-rendering="crispEdges"/>
<rect x="245.30" y="1058.60" width="31.10" height="26.40" fill="#FBB47B" shape-rendering="crispEdges"/>
<rect x="276.40" y="1058.60" width="31.10" height="26.40" fill="#E9545F" shape-rendering="crispEdges"/>
<rect x="307.50" y="1058.60" width="31.10" height="26.40" fill="#FBB47B" shape-rendering="crispEdges"/>
<rect x="338.60" y="1058.60" width="31.10" height="26.40" fill="#FBB47B" shape-rendering="crispEdges"/>
<rect x="369.70" y="1058.60" width="31.10" height="26.40" fill="#E9545F" shape-rendering="crispEdges"/>
<rect x="400.80" y="1058.60" width="31.10" height="26.40" fill="#FBB47B" shape-rendering="crispEdges"/>
<rect x="431.90" y="1058.60" width="31.10" height="26.40" fill="#7C2084" shape-rendering="crispEdges"/>
<rect x="463.00" y="1058.60" width="31.10" height="26.40" fill="#FBB47B" shape-rendering="crispEdges"/>
<rect x="494.10" y="1058.60" width="31.10" height="26.40" fill="#FCE3A6" shape-rendering="crispEdges"/>
<rect x="556.30" y="1058.60" width="31.10" height="26.40" fill="#FBB47B" shape-rendering="crispEdges"/>
<rect x="587.40" y="1058.60" width="31.10" height="26.40" fill="#E9545F" shape-rendering="crispEdges"/>
<rect x="649.60" y="1058.60" width="31.10" height="26.40" fill="#FBB47B" shape-rendering="crispEdges"/>
<rect x="680.70" y="1058.60" width="31.10" height="26.40" fill="#FBB47B" shape-rendering="crispEdges"/>
<rect x="214.20" y="1085.00" width="31.10" height="26.40" fill="#FBB47B" shape-rendering="crispEdges"/>
<rect x="245.30" y="1085.00" width="31.10" height="26.40" fill="#FBB47B" shape-rendering="crispEdges"/>
<rect x="276.40" y="1085.00" width="31.10" height="26.40" fill="#E9545F" shape-rendering="crispEdges"/>
<rect x="338.60" y="1085.00" width="31.10" height="26.40" fill="#FBB47B" shape-rendering="crispEdges"/>
<rect x="369.70" y="1085.00" width="31.10" height="26.40" fill="#FBB47B" shape-rendering="crispEdges"/>
<rect x="400.80" y="1085.00" width="31.10" height="26.40" fill="#FCE3A6" shape-rendering="crispEdges"/>
<rect x="431.90" y="1085.00" width="31.10" height="26.40" fill="#FBB47B" shape-rendering="crispEdges"/>
<rect x="463.00" y="1085.00" width="31.10" height="26.40" fill="#FBB47B" shape-rendering="crispEdges"/>
<rect x="494.10" y="1085.00" width="31.10" height="26.40" fill="#E9545F" shape-rendering="crispEdges"/>
<rect x="525.20" y="1085.00" width="31.10" height="26.40" fill="#FBB47B" shape-rendering="crispEdges"/>
<rect x="556.30" y="1085.00" width="31.10" height="26.40" fill="#FBB47B" shape-rendering="crispEdges"/>
<rect x="587.40" y="1085.00" width="31.10" height="26.40" fill="#FBB47B" shape-rendering="crispEdges"/>
<rect x="618.50" y="1085.00" width="31.10" height="26.40" fill="#FBB47B" shape-rendering="crispEdges"/>
<rect x="649.60" y="1085.00" width="31.10" height="26.40" fill="#FBB47B" shape-rendering="crispEdges"/>
<rect x="680.70" y="1085.00" width="31.10" height="26.40" fill="#FBB47B" shape-rendering="crispEdges"/>
<rect x="711.80" y="1085.00" width="31.10" height="26.40" fill="#FBB47B" shape-rendering="crispEdges"/>
<rect x="214.20" y="1111.40" width="31.10" height="26.40" fill="#FBB47B" shape-rendering="crispEdges"/>
<rect x="245.30" y="1111.40" width="31.10" height="26.40" fill="#FBB47B" shape-rendering="crispEdges"/>
<rect x="276.40" y="1111.40" width="31.10" height="26.40" fill="#E9545F" shape-rendering="crispEdges"/>
<rect x="307.50" y="1111.40" width="31.10" height="26.40" fill="#FBB47B" shape-rendering="crispEdges"/>
<rect x="338.60" y="1111.40" width="31.10" height="26.40" fill="#FBB47B" shape-rendering="crispEdges"/>
<rect x="369.70" y="1111.40" width="31.10" height="26.40" fill="#FBB47B" shape-rendering="crispEdges"/>
<rect x="400.80" y="1111.40" width="31.10" height="26.40" fill="#FBB47B" shape-rendering="crispEdges"/>
<rect x="431.90" y="1111.40" width="31.10" height="26.40" fill="#FBB47B" shape-rendering="crispEdges"/>
<rect x="463.00" y="1111.40" width="31.10" height="26.40" fill="#E9545F" shape-rendering="crispEdges"/>
<rect x="494.10" y="1111.40" width="31.10" height="26.40" fill="#FBB47B" shape-rendering="crispEdges"/>
<rect x="525.20" y="1111.40" width="31.10" height="26.40" fill="#FBB47B" shape-rendering="crispEdges"/>
<rect x="556.30" y="1111.40" width="31.10" height="26.40" fill="#FBB47B" shape-rendering="crispEdges"/>
<rect x="587.40" y="1111.40" width="31.10" height="26.40" fill="#FBB47B" shape-rendering="crispEdges"/>
<rect x="618.50" y="1111.40" width="31.10" height="26.40" fill="#FCE3A6" shape-rendering="crispEdges"/>
<rect x="649.60" y="1111.40" width="31.10" height="26.40" fill="#FBB47B" shape-rendering="crispEdges"/>
<rect x="711.80" y="1111.40" width="31.10" height="26.40" fill="#E9545F" shape-rendering="crispEdges"/>
<rect x="742.90" y="1111.40" width="31.10" height="26.40" fill="#7C2084" shape-rendering="crispEdges"/>
<rect x="214.20" y="1137.80" width="31.10" height="26.40" fill="#E9545F" shape-rendering="crispEdges"/>
<rect x="245.30" y="1137.80" width="31.10" height="26.40" fill="#E9545F" shape-rendering="crispEdges"/>
<rect x="276.40" y="1137.80" width="31.10" height="26.40" fill="#E9545F" shape-rendering="crispEdges"/>
<rect x="307.50" y="1137.80" width="31.10" height="26.40" fill="#FBB47B" shape-rendering="crispEdges"/>
<rect x="338.60" y="1137.80" width="31.10" height="26.40" fill="#E9545F" shape-rendering="crispEdges"/>
<rect x="369.70" y="1137.80" width="31.10" height="26.40" fill="#E9545F" shape-rendering="crispEdges"/>
<rect x="400.80" y="1137.80" width="31.10" height="26.40" fill="#E9545F" shape-rendering="crispEdges"/>
<rect x="431.90" y="1137.80" width="31.10" height="26.40" fill="#E9545F" shape-rendering="crispEdges"/>
<rect x="463.00" y="1137.80" width="31.10" height="26.40" fill="#E9545F" shape-rendering="crispEdges"/>
<rect x="494.10" y="1137.80" width="31.10" height="26.40" fill="#E9545F" shape-rendering="crispEdges"/>
<rect x="525.20" y="1137.80" width="31.10" height="26.40" fill="#E9545F" shape-rendering="crispEdges"/>
<rect x="556.30" y="1137.80" width="31.10" height="26.40" fill="#FBB47B" shape-rendering="crispEdges"/>
<rect x="587.40" y="1137.80" width="31.10" height="26.40" fill="#FBB47B" shape-rendering="crispEdges"/>
<rect x="618.50" y="1137.80" width="31.10" height="26.40" fill="#FBB47B" shape-rendering="crispEdges"/>
<rect x="649.60" y="1137.80" width="31.10" height="26.40" fill="#E9545F" shape-rendering="crispEdges"/>
<rect x="680.70" y="1137.80" width="31.10" height="26.40" fill="#FBB47B" shape-rendering="crispEdges"/>
<rect x="214.20" y="1164.20" width="31.10" height="26.40" fill="#E9545F" shape-rendering="crispEdges"/>
<rect x="245.30" y="1164.20" width="31.10" height="26.40" fill="#E9545F" shape-rendering="crispEdges"/>
<rect x="276.40" y="1164.20" width="31.10" height="26.40" fill="#E9545F" shape-rendering="crispEdges"/>
<rect x="307.50" y="1164.20" width="31.10" height="26.40" fill="#FBB47B" shape-rendering="crispEdges"/>
<rect x="338.60" y="1164.20" width="31.10" height="26.40" fill="#E9545F" shape-rendering="crispEdges"/>
<rect x="369.70" y="1164.20" width="31.10" height="26.40" fill="#E9545F" shape-rendering="crispEdges"/>
<rect x="400.80" y="1164.20" width="31.10" height="26.40" fill="#E9545F" shape-rendering="crispEdges"/>
<rect x="431.90" y="1164.20" width="31.10" height="26.40" fill="#E9545F" shape-rendering="crispEdges"/>
<rect x="463.00" y="1164.20" width="31.10" height="26.40" fill="#E9545F" shape-rendering="crispEdges"/>
<rect x="494.10" y="1164.20" width="31.10" height="26.40" fill="#E9545F" shape-rendering="crispEdges"/>
<rect x="525.20" y="1164.20" width="31.10" height="26.40" fill="#E9545F" shape-rendering="crispEdges"/>
<rect x="556.30" y="1164.20" width="31.10" height="26.40" fill="#E9545F" shape-rendering="crispEdges"/>
<rect x="587.40" y="1164.20" width="31.10" height="26.40" fill="#FBB47B" shape-rendering="crispEdges"/>
<rect x="618.50" y="1164.20" width="31.10" height="26.40" fill="#FBB47B" shape-rendering="crispEdges"/>
<rect x="649.60" y="1164.20" width="31.10" height="26.40" fill="#E9545F" shape-rendering="crispEdges"/>
<rect x="680.70" y="1164.20" width="31.10" height="26.40" fill="#FBB47B" shape-rendering="crispEdges"/>
<rect x="211.70" y="844.80" width="565.40" height="347.30" fill="none" stroke="#000" stroke-width="3.8"/>
<text x="196.4" y="864.5" font-size="17.9" text-anchor="end">Unfolded−prot.−resp.</text>
<text x="196.4" y="890.9" font-size="17.9" text-anchor="end">Proteasomal−deg.</text>
<text x="196.4" y="917.3" font-size="17.9" text-anchor="end">MAC2</text>
<text x="196.4" y="943.7" font-size="17.9" text-anchor="end">Respiration</text>
<text x="196.4" y="970.1" font-size="17.9" text-anchor="end">MAC3</text>
<text x="196.4" y="996.5" font-size="17.9" text-anchor="end">MYC/Mitochondria</text>
<text x="196.4" y="1022.9" font-size="17.9" text-anchor="end">Stress/HSP</text>
<text x="196.4" y="1049.3" font-size="17.9" text-anchor="end">MAC1</text>
<text x="196.4" y="1075.7" font-size="17.9" text-anchor="end">MES/glycolysis</text>
<text x="196.4" y="1102.1" font-size="17.9" text-anchor="end">Interferon</text>
<text x="196.4" y="1128.5" font-size="17.9" text-anchor="end">Cell−cycle</text>
<text x="196.4" y="1154.9" font-size="17.9" text-anchor="end">Monocyte/Secreted</text>
<text x="196.4" y="1181.3" font-size="17.9" text-anchor="end">Lipid−associated</text>
<text transform="translate(235.2,1199.7) rotate(-90)" font-size="18.2" text-anchor="end" textLength="117.7" lengthAdjust="spacingAndGlyphs">Synovial sarcoma</text>
<text transform="translate(266.4,1199.7) rotate(-90)" font-size="18.2" text-anchor="end" textLength="67.4" lengthAdjust="spacingAndGlyphs">Prostate</text>
<text transform="translate(297.4,1199.7) rotate(-90)" font-size="18.2" text-anchor="end" textLength="61.0" lengthAdjust="spacingAndGlyphs">NSCLC</text>
<text transform="translate(328.6,1199.7) rotate(-90)" font-size="18.2" text-anchor="end" textLength="39.3" lengthAdjust="spacingAndGlyphs">Liver</text>
<text transform="translate(359.6,1199.7) rotate(-90)" font-size="18.2" text-anchor="end" textLength="66.4" lengthAdjust="spacingAndGlyphs">Colorectal</text>
<text transform="translate(390.8,1199.7) rotate(-90)" font-size="18.2" text-anchor="end" textLength="47.0" lengthAdjust="spacingAndGlyphs">Renal</text>
<text transform="translate(421.9,1199.7) rotate(-90)" font-size="18.2" text-anchor="end" textLength="106.1" lengthAdjust="spacingAndGlyphs">Neuroendocrine</text>
<text transform="translate(452.9,1199.7) rotate(-90)" font-size="18.2" text-anchor="end" textLength="56.7" lengthAdjust="spacingAndGlyphs">Glioma</text>
<text transform="translate(484.1,1199.7) rotate(-90)" font-size="18.2" text-anchor="end" textLength="49.9" lengthAdjust="spacingAndGlyphs">PDAC</text>
<text transform="translate(515.1,1199.7) rotate(-90)" font-size="18.2" text-anchor="end" textLength="90.6" lengthAdjust="spacingAndGlyphs">Skin (SCC)</text>
<text transform="translate(546.2,1199.7) rotate(-90)" font-size="18.2" text-anchor="end" textLength="52.8" lengthAdjust="spacingAndGlyphs">HNSCC</text>
<text transform="translate(577.4,1199.7) rotate(-90)" font-size="18.2" text-anchor="end" textLength="63.5" lengthAdjust="spacingAndGlyphs">Ovarian</text>
<text transform="translate(608.5,1199.7) rotate(-90)" font-size="18.2" text-anchor="end" textLength="60.6" lengthAdjust="spacingAndGlyphs">Thyroid</text>
<text transform="translate(639.5,1199.7) rotate(-90)" font-size="18.2" text-anchor="end" textLength="84.8" lengthAdjust="spacingAndGlyphs">Melanoma</text>
<text transform="translate(670.7,1199.7) rotate(-90)" font-size="18.2" text-anchor="end" textLength="52.5" lengthAdjust="spacingAndGlyphs">Breast</text>
<text transform="translate(701.8,1199.7) rotate(-90)" font-size="18.2" text-anchor="end" textLength="90.6" lengthAdjust="spacingAndGlyphs">Schwannoma</text>
<text transform="translate(732.8,1199.7) rotate(-90)" font-size="18.2" text-anchor="end" textLength="32.5" lengthAdjust="spacingAndGlyphs">ALL</text>
<text transform="translate(764.0,1199.7) rotate(-90)" font-size="18.2" text-anchor="end" textLength="38.3" lengthAdjust="spacingAndGlyphs">CML</text>
<rect x="787.20" y="848.10" width="11.20" height="23.70" fill="#D8D8D9" shape-rendering="crispEdges"/>
<rect x="787.20" y="874.50" width="11.20" height="23.70" fill="#D8D8D9" shape-rendering="crispEdges"/>
<rect x="787.20" y="900.90" width="11.20" height="23.70" fill="#D8D8D9" shape-rendering="crispEdges"/>
<rect x="787.20" y="927.30" width="16.00" height="23.70" fill="#D8D8D9" shape-rendering="crispEdges"/>
<rect x="787.20" y="953.70" width="38.30" height="23.70" fill="#838487" shape-rendering="crispEdges"/>
<rect x="787.20" y="980.10" width="43.60" height="23.70" fill="#838487" shape-rendering="crispEdges"/>
<rect x="787.20" y="1006.50" width="48.70" height="23.70" fill="#838487" shape-rendering="crispEdges"/>
<rect x="787.20" y="1032.90" width="59.70" height="23.70" fill="#838487" shape-rendering="crispEdges"/>
<rect x="787.20" y="1059.30" width="70.50" height="23.70" fill="#838487" shape-rendering="crispEdges"/>
<rect x="787.20" y="1085.70" width="81.60" height="23.70" fill="#100E0D" shape-rendering="crispEdges"/>
<rect x="787.20" y="1112.10" width="87.10" height="23.70" fill="#100E0D" shape-rendering="crispEdges"/>
<rect x="787.20" y="1138.50" width="87.10" height="23.70" fill="#100E0D" shape-rendering="crispEdges"/>
<rect x="787.20" y="1164.90" width="87.10" height="23.70" fill="#100E0D" shape-rendering="crispEdges"/>
<line x1="789.90" y1="1188.50" x2="789.90" y2="1194.50" stroke="#111" stroke-width="1.3"/>
<text x="787.9" y="1215.4" font-size="16.2" text-anchor="middle">0</text>
<line x1="830.50" y1="1188.50" x2="830.50" y2="1194.50" stroke="#111" stroke-width="1.3"/>
<text x="831.5" y="1215.4" font-size="16.2" text-anchor="middle">8</text>
<line x1="873.80" y1="1188.50" x2="873.80" y2="1194.50" stroke="#111" stroke-width="1.3"/>
<text x="876.2" y="1215.4" font-size="16.2" text-anchor="middle">16</text>
<text x="505.6" y="833.6" font-size="28.4" text-anchor="middle" textLength="173.5" lengthAdjust="spacingAndGlyphs">Macrophages</text>
<text x="492.2" y="1351.4" font-size="24.3" text-anchor="middle" textLength="135.6" lengthAdjust="spacingAndGlyphs">Cancer type</text>
<text x="785.2" y="1242.5" font-size="24.2" text-anchor="start" textLength="114.4" lengthAdjust="spacingAndGlyphs">Number of</text>
<text x="785.2" y="1271.5" font-size="24.2" text-anchor="start" textLength="138.3" lengthAdjust="spacingAndGlyphs">cancer types</text>
<text transform="translate(28.2,1018.2) rotate(-90)" font-size="24.7" text-anchor="middle" textLength="168.5" lengthAdjust="spacingAndGlyphs">Meta-programs</text>
<rect x="1471.26" y="846.70" width="32.96" height="22.95" fill="#7C2084" shape-rendering="crispEdges"/>
<rect x="1273.50" y="869.65" width="32.96" height="22.95" fill="#7C2084" shape-rendering="crispEdges"/>
<rect x="1471.26" y="892.60" width="32.96" height="22.95" fill="#7C2084" shape-rendering="crispEdges"/>
<rect x="1108.70" y="915.55" width="32.96" height="22.95" fill="#FCE3A6" shape-rendering="crispEdges"/>
<rect x="1141.66" y="915.55" width="32.96" height="22.95" fill="#FBB47B" shape-rendering="crispEdges"/>
<rect x="1207.58" y="915.55" width="32.96" height="22.95" fill="#7C2084" shape-rendering="crispEdges"/>
<rect x="1372.38" y="915.55" width="32.96" height="22.95" fill="#FBB47B" shape-rendering="crispEdges"/>
<rect x="1471.26" y="915.55" width="32.96" height="22.95" fill="#FBB47B" shape-rendering="crispEdges"/>
<rect x="1141.66" y="938.50" width="32.96" height="22.95" fill="#FBB47B" shape-rendering="crispEdges"/>
<rect x="1207.58" y="938.50" width="32.96" height="22.95" fill="#FCE3A6" shape-rendering="crispEdges"/>
<rect x="1273.50" y="938.50" width="32.96" height="22.95" fill="#FBB47B" shape-rendering="crispEdges"/>
<rect x="1306.46" y="938.50" width="32.96" height="22.95" fill="#E9545F" shape-rendering="crispEdges"/>
<rect x="1471.26" y="938.50" width="32.96" height="22.95" fill="#FBB47B" shape-rendering="crispEdges"/>
<rect x="1570.14" y="938.50" width="32.96" height="22.95" fill="#FBB47B" shape-rendering="crispEdges"/>
<rect x="1108.70" y="961.45" width="32.96" height="22.95" fill="#7C2084" shape-rendering="crispEdges"/>
<rect x="1207.58" y="961.45" width="32.96" height="22.95" fill="#FCE3A6" shape-rendering="crispEdges"/>
<rect x="1273.50" y="961.45" width="32.96" height="22.95" fill="#FCE3A6" shape-rendering="crispEdges"/>
<rect x="1306.46" y="961.45" width="32.96" height="22.95" fill="#FCE3A6" shape-rendering="crispEdges"/>
<rect x="1339.42" y="961.45" width="32.96" height="22.95" fill="#FBB47B" shape-rendering="crispEdges"/>
<rect x="1372.38" y="961.45" width="32.96" height="22.95" fill="#FBB47B" shape-rendering="crispEdges"/>
<rect x="1405.34" y="961.45" width="32.96" height="22.95" fill="#FBB47B" shape-rendering="crispEdges"/>
<rect x="1504.22" y="961.45" width="32.96" height="22.95" fill="#FBB47B" shape-rendering="crispEdges"/>
<rect x="1570.14" y="961.45" width="32.96" height="22.95" fill="#FBB47B" shape-rendering="crispEdges"/>
<rect x="1108.70" y="984.40" width="32.96" height="22.95" fill="#FBB47B" shape-rendering="crispEdges"/>
<rect x="1273.50" y="984.40" width="32.96" height="22.95" fill="#7C2084" shape-rendering="crispEdges"/>
<rect x="1306.46" y="984.40" width="32.96" height="22.95" fill="#FBB47B" shape-rendering="crispEdges"/>
<rect x="1471.26" y="984.40" width="32.96" height="22.95" fill="#FBB47B" shape-rendering="crispEdges"/>
<rect x="1603.10" y="984.40" width="32.96" height="22.95" fill="#FBB47B" shape-rendering="crispEdges"/>
<rect x="1636.06" y="984.40" width="32.96" height="22.95" fill="#E9545F" shape-rendering="crispEdges"/>
<rect x="1108.70" y="1007.35" width="32.96" height="22.95" fill="#E9545F" shape-rendering="crispEdges"/>
<rect x="1141.66" y="1007.35" width="32.96" height="22.95" fill="#FBB47B" shape-rendering="crispEdges"/>
<rect x="1207.58" y="1007.35" width="32.96" height="22.95" fill="#FBB47B" shape-rendering="crispEdges"/>
<rect x="1306.46" y="1007.35" width="32.96" height="22.95" fill="#FCE3A6" shape-rendering="crispEdges"/>
<rect x="1339.42" y="1007.35" width="32.96" height="22.95" fill="#FCE3A6" shape-rendering="crispEdges"/>
<rect x="1372.38" y="1007.35" width="32.96" height="22.95" fill="#FBB47B" shape-rendering="crispEdges"/>
<rect x="1405.34" y="1007.35" width="32.96" height="22.95" fill="#FBB47B" shape-rendering="crispEdges"/>
<rect x="1471.26" y="1007.35" width="32.96" height="22.95" fill="#FBB47B" shape-rendering="crispEdges"/>
<rect x="1504.22" y="1007.35" width="32.96" height="22.95" fill="#FBB47B" shape-rendering="crispEdges"/>
<rect x="1603.10" y="1007.35" width="32.96" height="22.95" fill="#FBB47B" shape-rendering="crispEdges"/>
<rect x="1108.70" y="1030.30" width="32.96" height="22.95" fill="#FBB47B" shape-rendering="crispEdges"/>
<rect x="1207.58" y="1030.30" width="32.96" height="22.95" fill="#FBB47B" shape-rendering="crispEdges"/>
<rect x="1306.46" y="1030.30" width="32.96" height="22.95" fill="#FCE3A6" shape-rendering="crispEdges"/>
<rect x="1372.38" y="1030.30" width="32.96" height="22.95" fill="#FBB47B" shape-rendering="crispEdges"/>
<rect x="1405.34" y="1030.30" width="32.96" height="22.95" fill="#FBB47B" shape-rendering="crispEdges"/>
<rect x="1438.30" y="1030.30" width="32.96" height="22.95" fill="#7C2084" shape-rendering="crispEdges"/>
<rect x="1471.26" y="1030.30" width="32.96" height="22.95" fill="#FBB47B" shape-rendering="crispEdges"/>
<rect x="1504.22" y="1030.30" width="32.96" height="22.95" fill="#E9545F" shape-rendering="crispEdges"/>
<rect x="1537.18" y="1030.30" width="32.96" height="22.95" fill="#FBB47B" shape-rendering="crispEdges"/>
<rect x="1108.70" y="1053.25" width="32.96" height="22.95" fill="#7C2084" shape-rendering="crispEdges"/>
<rect x="1273.50" y="1053.25" width="32.96" height="22.95" fill="#FBB47B" shape-rendering="crispEdges"/>
<rect x="1306.46" y="1053.25" width="32.96" height="22.95" fill="#FBB47B" shape-rendering="crispEdges"/>
<rect x="1339.42" y="1053.25" width="32.96" height="22.95" fill="#FBB47B" shape-rendering="crispEdges"/>
<rect x="1372.38" y="1053.25" width="32.96" height="22.95" fill="#FCE3A6" shape-rendering="crispEdges"/>
<rect x="1438.30" y="1053.25" width="32.96" height="22.95" fill="#FBB47B" shape-rendering="crispEdges"/>
<rect x="1471.26" y="1053.25" width="32.96" height="22.95" fill="#FBB47B" shape-rendering="crispEdges"/>
<rect x="1504.22" y="1053.25" width="32.96" height="22.95" fill="#FBB47B" shape-rendering="crispEdges"/>
<rect x="1537.18" y="1053.25" width="32.96" height="22.95" fill="#FBB47B" shape-rendering="crispEdges"/>
<rect x="1570.14" y="1053.25" width="32.96" height="22.95" fill="#FBB47B" shape-rendering="crispEdges"/>
<rect x="1108.70" y="1076.20" width="32.96" height="22.95" fill="#FBB47B" shape-rendering="crispEdges"/>
<rect x="1141.66" y="1076.20" width="32.96" height="22.95" fill="#FBB47B" shape-rendering="crispEdges"/>
<rect x="1240.54" y="1076.20" width="32.96" height="22.95" fill="#FBB47B" shape-rendering="crispEdges"/>
<rect x="1273.50" y="1076.20" width="32.96" height="22.95" fill="#7C2084" shape-rendering="crispEdges"/>
<rect x="1306.46" y="1076.20" width="32.96" height="22.95" fill="#FBB47B" shape-rendering="crispEdges"/>
<rect x="1339.42" y="1076.20" width="32.96" height="22.95" fill="#FBB47B" shape-rendering="crispEdges"/>
<rect x="1372.38" y="1076.20" width="32.96" height="22.95" fill="#FBB47B" shape-rendering="crispEdges"/>
<rect x="1438.30" y="1076.20" width="32.96" height="22.95" fill="#FBB47B" shape-rendering="crispEdges"/>
<rect x="1570.14" y="1076.20" width="32.96" height="22.95" fill="#7C2084" shape-rendering="crispEdges"/>
<rect x="1603.10" y="1076.20" width="32.96" height="22.95" fill="#E9545F" shape-rendering="crispEdges"/>
<rect x="1108.70" y="1099.15" width="32.96" height="22.95" fill="#FBB47B" shape-rendering="crispEdges"/>
<rect x="1141.66" y="1099.15" width="32.96" height="22.95" fill="#FBB47B" shape-rendering="crispEdges"/>
<rect x="1174.62" y="1099.15" width="32.96" height="22.95" fill="#FBB47B" shape-rendering="crispEdges"/>
<rect x="1207.58" y="1099.15" width="32.96" height="22.95" fill="#FBB47B" shape-rendering="crispEdges"/>
<rect x="1273.50" y="1099.15" width="32.96" height="22.95" fill="#E9545F" shape-rendering="crispEdges"/>
<rect x="1306.46" y="1099.15" width="32.96" height="22.95" fill="#E9545F" shape-rendering="crispEdges"/>
<rect x="1339.42" y="1099.15" width="32.96" height="22.95" fill="#FCE3A6" shape-rendering="crispEdges"/>
<rect x="1372.38" y="1099.15" width="32.96" height="22.95" fill="#FBB47B" shape-rendering="crispEdges"/>
<rect x="1405.34" y="1099.15" width="32.96" height="22.95" fill="#FCE3A6" shape-rendering="crispEdges"/>
<rect x="1438.30" y="1099.15" width="32.96" height="22.95" fill="#FBB47B" shape-rendering="crispEdges"/>
<rect x="1471.26" y="1099.15" width="32.96" height="22.95" fill="#E9545F" shape-rendering="crispEdges"/>
<rect x="1504.22" y="1099.15" width="32.96" height="22.95" fill="#FBB47B" shape-rendering="crispEdges"/>
<rect x="1570.14" y="1099.15" width="32.96" height="22.95" fill="#FBB47B" shape-rendering="crispEdges"/>
<rect x="1636.06" y="1099.15" width="32.96" height="22.95" fill="#FBB47B" shape-rendering="crispEdges"/>
<rect x="1108.70" y="1122.10" width="32.96" height="22.95" fill="#E9545F" shape-rendering="crispEdges"/>
<rect x="1141.66" y="1122.10" width="32.96" height="22.95" fill="#E9545F" shape-rendering="crispEdges"/>
<rect x="1174.62" y="1122.10" width="32.96" height="22.95" fill="#FCE3A6" shape-rendering="crispEdges"/>
<rect x="1207.58" y="1122.10" width="32.96" height="22.95" fill="#E9545F" shape-rendering="crispEdges"/>
<rect x="1240.54" y="1122.10" width="32.96" height="22.95" fill="#FBB47B" shape-rendering="crispEdges"/>
<rect x="1273.50" y="1122.10" width="32.96" height="22.95" fill="#E9545F" shape-rendering="crispEdges"/>
<rect x="1306.46" y="1122.10" width="32.96" height="22.95" fill="#FBB47B" shape-rendering="crispEdges"/>
<rect x="1339.42" y="1122.10" width="32.96" height="22.95" fill="#E9545F" shape-rendering="crispEdges"/>
<rect x="1372.38" y="1122.10" width="32.96" height="22.95" fill="#FBB47B" shape-rendering="crispEdges"/>
<rect x="1405.34" y="1122.10" width="32.96" height="22.95" fill="#FBB47B" shape-rendering="crispEdges"/>
<rect x="1438.30" y="1122.10" width="32.96" height="22.95" fill="#FBB47B" shape-rendering="crispEdges"/>
<rect x="1471.26" y="1122.10" width="32.96" height="22.95" fill="#E9545F" shape-rendering="crispEdges"/>
<rect x="1504.22" y="1122.10" width="32.96" height="22.95" fill="#FBB47B" shape-rendering="crispEdges"/>
<rect x="1537.18" y="1122.10" width="32.96" height="22.95" fill="#FBB47B" shape-rendering="crispEdges"/>
<rect x="1570.14" y="1122.10" width="32.96" height="22.95" fill="#FBB47B" shape-rendering="crispEdges"/>
<rect x="1108.70" y="1145.05" width="32.96" height="22.95" fill="#E9545F" shape-rendering="crispEdges"/>
<rect x="1141.66" y="1145.05" width="32.96" height="22.95" fill="#E9545F" shape-rendering="crispEdges"/>
<rect x="1174.62" y="1145.05" width="32.96" height="22.95" fill="#FBB47B" shape-rendering="crispEdges"/>
<rect x="1207.58" y="1145.05" width="32.96" height="22.95" fill="#E9545F" shape-rendering="crispEdges"/>
<rect x="1240.54" y="1145.05" width="32.96" height="22.95" fill="#FBB47B" shape-rendering="crispEdges"/>
<rect x="1273.50" y="1145.05" width="32.96" height="22.95" fill="#E9545F" shape-rendering="crispEdges"/>
<rect x="1306.46" y="1145.05" width="32.96" height="22.95" fill="#FBB47B" shape-rendering="crispEdges"/>
<rect x="1339.42" y="1145.05" width="32.96" height="22.95" fill="#FBB47B" shape-rendering="crispEdges"/>
<rect x="1372.38" y="1145.05" width="32.96" height="22.95" fill="#FBB47B" shape-rendering="crispEdges"/>
<rect x="1405.34" y="1145.05" width="32.96" height="22.95" fill="#FBB47B" shape-rendering="crispEdges"/>
<rect x="1471.26" y="1145.05" width="32.96" height="22.95" fill="#E9545F" shape-rendering="crispEdges"/>
<rect x="1504.22" y="1145.05" width="32.96" height="22.95" fill="#FBB47B" shape-rendering="crispEdges"/>
<rect x="1537.18" y="1145.05" width="32.96" height="22.95" fill="#FBB47B" shape-rendering="crispEdges"/>
<rect x="1570.14" y="1145.05" width="32.96" height="22.95" fill="#FBB47B" shape-rendering="crispEdges"/>
<rect x="1636.06" y="1145.05" width="32.96" height="22.95" fill="#FBB47B" shape-rendering="crispEdges"/>
<rect x="1108.70" y="1168.00" width="32.96" height="22.95" fill="#E9545F" shape-rendering="crispEdges"/>
<rect x="1141.66" y="1168.00" width="32.96" height="22.95" fill="#E9545F" shape-rendering="crispEdges"/>
<rect x="1174.62" y="1168.00" width="32.96" height="22.95" fill="#FBB47B" shape-rendering="crispEdges"/>
<rect x="1207.58" y="1168.00" width="32.96" height="22.95" fill="#E9545F" shape-rendering="crispEdges"/>
<rect x="1240.54" y="1168.00" width="32.96" height="22.95" fill="#FBB47B" shape-rendering="crispEdges"/>
<rect x="1273.50" y="1168.00" width="32.96" height="22.95" fill="#E9545F" shape-rendering="crispEdges"/>
<rect x="1306.46" y="1168.00" width="32.96" height="22.95" fill="#FBB47B" shape-rendering="crispEdges"/>
<rect x="1339.42" y="1168.00" width="32.96" height="22.95" fill="#E9545F" shape-rendering="crispEdges"/>
<rect x="1372.38" y="1168.00" width="32.96" height="22.95" fill="#FBB47B" shape-rendering="crispEdges"/>
<rect x="1405.34" y="1168.00" width="32.96" height="22.95" fill="#FBB47B" shape-rendering="crispEdges"/>
<rect x="1438.30" y="1168.00" width="32.96" height="22.95" fill="#FBB47B" shape-rendering="crispEdges"/>
<rect x="1471.26" y="1168.00" width="32.96" height="22.95" fill="#E9545F" shape-rendering="crispEdges"/>
<rect x="1504.22" y="1168.00" width="32.96" height="22.95" fill="#FBB47B" shape-rendering="crispEdges"/>
<rect x="1537.18" y="1168.00" width="32.96" height="22.95" fill="#FCE3A6" shape-rendering="crispEdges"/>
<rect x="1570.14" y="1168.00" width="32.96" height="22.95" fill="#FBB47B" shape-rendering="crispEdges"/>
<rect x="1603.10" y="1168.00" width="32.96" height="22.95" fill="#FBB47B" shape-rendering="crispEdges"/>
<rect x="1106.30" y="845.40" width="565.20" height="346.80" fill="none" stroke="#000" stroke-width="3.8"/>
<text x="1097.0" y="862.9" font-size="17.9" text-anchor="end">Coagulation</text>
<text x="1097.0" y="885.8" font-size="17.9" text-anchor="end">Endo6</text>
<text x="1097.0" y="908.8" font-size="17.9" text-anchor="end">Endo4</text>
<text x="1097.0" y="931.7" font-size="17.9" text-anchor="end">Endo7</text>
<text x="1097.0" y="954.7" font-size="17.9" text-anchor="end">NF−kb</text>
<text x="1097.0" y="977.6" font-size="17.9" text-anchor="end">Interferon</text>
<text x="1097.0" y="1000.6" font-size="17.9" text-anchor="end">Endo3</text>
<text x="1097.0" y="1023.5" font-size="17.9" text-anchor="end">HEV2</text>
<text x="1097.0" y="1046.5" font-size="17.9" text-anchor="end">Endo5</text>
<text x="1097.0" y="1069.4" font-size="17.9" text-anchor="end">Cell−cycle</text>
<text x="1097.0" y="1092.4" font-size="17.9" text-anchor="end">Endo2</text>
<text x="1097.0" y="1115.3" font-size="17.9" text-anchor="end">Stress</text>
<text x="1097.0" y="1138.3" font-size="17.9" text-anchor="end">Notch−signaling</text>
<text x="1097.0" y="1161.2" font-size="17.9" text-anchor="end">Endo1</text>
<text x="1097.0" y="1184.2" font-size="17.9" text-anchor="end">HEV1</text>
<text transform="translate(1130.7,1199.7) rotate(-90)" font-size="18.2" text-anchor="end" textLength="52.8" lengthAdjust="spacingAndGlyphs">HNSCC</text>
<text transform="translate(1163.6,1199.7) rotate(-90)" font-size="18.2" text-anchor="end" textLength="67.4" lengthAdjust="spacingAndGlyphs">Prostate</text>
<text transform="translate(1196.6,1199.7) rotate(-90)" font-size="18.2" text-anchor="end" textLength="39.3" lengthAdjust="spacingAndGlyphs">Liver</text>
<text transform="translate(1229.6,1199.7) rotate(-90)" font-size="18.2" text-anchor="end" textLength="49.9" lengthAdjust="spacingAndGlyphs">PDAC</text>
<text transform="translate(1262.5,1199.7) rotate(-90)" font-size="18.2" text-anchor="end" textLength="63.5" lengthAdjust="spacingAndGlyphs">Ovarian</text>
<text transform="translate(1295.5,1199.7) rotate(-90)" font-size="18.2" text-anchor="end" textLength="61.0" lengthAdjust="spacingAndGlyphs">NSCLC</text>
<text transform="translate(1328.4,1199.7) rotate(-90)" font-size="18.2" text-anchor="end" textLength="106.1" lengthAdjust="spacingAndGlyphs">Neuroendocrine</text>
<text transform="translate(1361.4,1199.7) rotate(-90)" font-size="18.2" text-anchor="end" textLength="66.4" lengthAdjust="spacingAndGlyphs">Colorectal</text>
<text transform="translate(1394.4,1199.7) rotate(-90)" font-size="18.2" text-anchor="end" textLength="117.7" lengthAdjust="spacingAndGlyphs">Osteosarcoma</text>
<text transform="translate(1427.3,1199.7) rotate(-90)" font-size="18.2" text-anchor="end" textLength="52.5" lengthAdjust="spacingAndGlyphs">Breast</text>
<text transform="translate(1460.3,1199.7) rotate(-90)" font-size="18.2" text-anchor="end" textLength="117.7" lengthAdjust="spacingAndGlyphs">Synovial sarcoma</text>
<text transform="translate(1493.2,1199.7) rotate(-90)" font-size="18.2" text-anchor="end" textLength="47.0" lengthAdjust="spacingAndGlyphs">Renal</text>
<text transform="translate(1526.2,1199.7) rotate(-90)" font-size="18.2" text-anchor="end" textLength="90.6" lengthAdjust="spacingAndGlyphs">Schwannoma</text>
<text transform="translate(1559.2,1199.7) rotate(-90)" font-size="18.2" text-anchor="end" textLength="60.6" lengthAdjust="spacingAndGlyphs">Thyroid</text>
<text transform="translate(1592.1,1199.7) rotate(-90)" font-size="18.2" text-anchor="end" textLength="90.6" lengthAdjust="spacingAndGlyphs">Skin (SCC)</text>
<text transform="translate(1625.1,1199.7) rotate(-90)" font-size="18.2" text-anchor="end" textLength="84.8" lengthAdjust="spacingAndGlyphs">Melanoma</text>
<text transform="translate(1658.0,1199.7) rotate(-90)" font-size="18.2" text-anchor="end" textLength="56.7" lengthAdjust="spacingAndGlyphs">Glioma</text>
<rect x="1680.90" y="848.00" width="5.90" height="20.80" fill="#D8D8D9" shape-rendering="crispEdges"/>
<rect x="1680.90" y="870.88" width="5.90" height="20.80" fill="#D8D8D9" shape-rendering="crispEdges"/>
<rect x="1680.90" y="893.76" width="5.90" height="20.80" fill="#D8D8D9" shape-rendering="crispEdges"/>
<rect x="1680.90" y="916.64" width="23.20" height="20.80" fill="#838487" shape-rendering="crispEdges"/>
<rect x="1680.90" y="939.52" width="28.80" height="20.80" fill="#838487" shape-rendering="crispEdges"/>
<rect x="1680.90" y="962.40" width="35.00" height="20.80" fill="#838487" shape-rendering="crispEdges"/>
<rect x="1680.90" y="985.28" width="35.00" height="20.80" fill="#838487" shape-rendering="crispEdges"/>
<rect x="1680.90" y="1008.16" width="46.50" height="20.80" fill="#838487" shape-rendering="crispEdges"/>
<rect x="1680.90" y="1031.04" width="46.50" height="20.80" fill="#838487" shape-rendering="crispEdges"/>
<rect x="1680.90" y="1053.92" width="52.00" height="20.80" fill="#838487" shape-rendering="crispEdges"/>
<rect x="1680.90" y="1076.80" width="58.10" height="20.80" fill="#838487" shape-rendering="crispEdges"/>
<rect x="1680.90" y="1099.68" width="69.70" height="20.80" fill="#100E0D" shape-rendering="crispEdges"/>
<rect x="1680.90" y="1122.56" width="81.00" height="20.80" fill="#100E0D" shape-rendering="crispEdges"/>
<rect x="1680.90" y="1145.44" width="86.90" height="20.80" fill="#100E0D" shape-rendering="crispEdges"/>
<rect x="1680.90" y="1168.32" width="86.90" height="20.80" fill="#100E0D" shape-rendering="crispEdges"/>
<line x1="1680.70" y1="1189.20" x2="1680.70" y2="1194.50" stroke="#111" stroke-width="1.3"/>
<text x="1681.7" y="1215.4" font-size="16.2" text-anchor="middle">0</text>
<line x1="1709.70" y1="1189.20" x2="1709.70" y2="1194.50" stroke="#111" stroke-width="1.3"/>
<text x="1710.0" y="1215.4" font-size="16.2" text-anchor="middle">5</text>
<line x1="1739.10" y1="1189.20" x2="1739.10" y2="1194.50" stroke="#111" stroke-width="1.3"/>
<text x="1737.2" y="1215.4" font-size="16.2" text-anchor="middle">10</text>
<line x1="1768.10" y1="1189.20" x2="1768.10" y2="1194.50" stroke="#111" stroke-width="1.3"/>
<text x="1766.2" y="1215.4" font-size="16.2" text-anchor="middle">15</text>
<text x="1397.9" y="833.9" font-size="28.4" text-anchor="middle" textLength="141.2" lengthAdjust="spacingAndGlyphs">Endothelial</text>
<text x="1378.0" y="1350.5" font-size="24.3" text-anchor="middle" textLength="135.6" lengthAdjust="spacingAndGlyphs">Cancer type</text>
<text x="1677.3" y="1242.5" font-size="24.2" text-anchor="start" textLength="114.4" lengthAdjust="spacingAndGlyphs">Number of</text>
<text x="1677.3" y="1271.5" font-size="24.2" text-anchor="start" textLength="138.3" lengthAdjust="spacingAndGlyphs">cancer types</text>
<text transform="translate(968.0,1018.6) rotate(-90)" font-size="24.7" text-anchor="middle" textLength="168.5" lengthAdjust="spacingAndGlyphs">Meta-programs</text>
<rect x="494.11" y="1450.50" width="39.93" height="31.14" fill="#7C2084" shape-rendering="crispEdges"/>
<rect x="214.60" y="1481.64" width="39.93" height="31.14" fill="#FCE3A6" shape-rendering="crispEdges"/>
<rect x="294.46" y="1481.64" width="39.93" height="31.14" fill="#FBB47B" shape-rendering="crispEdges"/>
<rect x="454.18" y="1481.64" width="39.93" height="31.14" fill="#E9545F" shape-rendering="crispEdges"/>
<rect x="214.60" y="1512.78" width="39.93" height="31.14" fill="#FBB47B" shape-rendering="crispEdges"/>
<rect x="294.46" y="1512.78" width="39.93" height="31.14" fill="#FBB47B" shape-rendering="crispEdges"/>
<rect x="334.39" y="1512.78" width="39.93" height="31.14" fill="#FBB47B" shape-rendering="crispEdges"/>
<rect x="573.97" y="1512.78" width="39.93" height="31.14" fill="#FBB47B" shape-rendering="crispEdges"/>
<rect x="613.90" y="1512.78" width="39.93" height="31.14" fill="#FBB47B" shape-rendering="crispEdges"/>
<rect x="214.60" y="1543.92" width="39.93" height="31.14" fill="#FBB47B" shape-rendering="crispEdges"/>
<rect x="294.46" y="1543.92" width="39.93" height="31.14" fill="#FBB47B" shape-rendering="crispEdges"/>
<rect x="334.39" y="1543.92" width="39.93" height="31.14" fill="#FBB47B" shape-rendering="crispEdges"/>
<rect x="374.32" y="1543.92" width="39.93" height="31.14" fill="#FBB47B" shape-rendering="crispEdges"/>
<rect x="494.11" y="1543.92" width="39.93" height="31.14" fill="#FCE3A6" shape-rendering="crispEdges"/>
<rect x="534.04" y="1543.92" width="39.93" height="31.14" fill="#FBB47B" shape-rendering="crispEdges"/>
<rect x="613.90" y="1543.92" width="39.93" height="31.14" fill="#FBB47B" shape-rendering="crispEdges"/>
<rect x="214.60" y="1575.06" width="39.93" height="31.14" fill="#E9545F" shape-rendering="crispEdges"/>
<rect x="254.53" y="1575.06" width="39.93" height="31.14" fill="#E9545F" shape-rendering="crispEdges"/>
<rect x="414.25" y="1575.06" width="39.93" height="31.14" fill="#FBB47B" shape-rendering="crispEdges"/>
<rect x="454.18" y="1575.06" width="39.93" height="31.14" fill="#FBB47B" shape-rendering="crispEdges"/>
<rect x="653.83" y="1575.06" width="39.93" height="31.14" fill="#FBB47B" shape-rendering="crispEdges"/>
<rect x="733.69" y="1575.06" width="39.93" height="31.14" fill="#FBB47B" shape-rendering="crispEdges"/>
<rect x="214.60" y="1606.20" width="39.93" height="31.14" fill="#FBB47B" shape-rendering="crispEdges"/>
<rect x="254.53" y="1606.20" width="39.93" height="31.14" fill="#E9545F" shape-rendering="crispEdges"/>
<rect x="294.46" y="1606.20" width="39.93" height="31.14" fill="#E9545F" shape-rendering="crispEdges"/>
<rect x="334.39" y="1606.20" width="39.93" height="31.14" fill="#FBB47B" shape-rendering="crispEdges"/>
<rect x="454.18" y="1606.20" width="39.93" height="31.14" fill="#FBB47B" shape-rendering="crispEdges"/>
<rect x="494.11" y="1606.20" width="39.93" height="31.14" fill="#FCE3A6" shape-rendering="crispEdges"/>
<rect x="613.90" y="1606.20" width="39.93" height="31.14" fill="#FBB47B" shape-rendering="crispEdges"/>
<rect x="214.60" y="1637.34" width="39.93" height="31.14" fill="#FBB47B" shape-rendering="crispEdges"/>
<rect x="294.46" y="1637.34" width="39.93" height="31.14" fill="#FBB47B" shape-rendering="crispEdges"/>
<rect x="334.39" y="1637.34" width="39.93" height="31.14" fill="#E9545F" shape-rendering="crispEdges"/>
<rect x="534.04" y="1637.34" width="39.93" height="31.14" fill="#E9545F" shape-rendering="crispEdges"/>
<rect x="573.97" y="1637.34" width="39.93" height="31.14" fill="#FBB47B" shape-rendering="crispEdges"/>
<rect x="613.90" y="1637.34" width="39.93" height="31.14" fill="#FBB47B" shape-rendering="crispEdges"/>
<rect x="693.76" y="1637.34" width="39.93" height="31.14" fill="#FBB47B" shape-rendering="crispEdges"/>
<rect x="214.60" y="1668.48" width="39.93" height="31.14" fill="#E9545F" shape-rendering="crispEdges"/>
<rect x="254.53" y="1668.48" width="39.93" height="31.14" fill="#FBB47B" shape-rendering="crispEdges"/>
<rect x="294.46" y="1668.48" width="39.93" height="31.14" fill="#E9545F" shape-rendering="crispEdges"/>
<rect x="334.39" y="1668.48" width="39.93" height="31.14" fill="#FBB47B" shape-rendering="crispEdges"/>
<rect x="374.32" y="1668.48" width="39.93" height="31.14" fill="#FBB47B" shape-rendering="crispEdges"/>
<rect x="414.25" y="1668.48" width="39.93" height="31.14" fill="#FBB47B" shape-rendering="crispEdges"/>
<rect x="454.18" y="1668.48" width="39.93" height="31.14" fill="#FBB47B" shape-rendering="crispEdges"/>
<rect x="494.11" y="1668.48" width="39.93" height="31.14" fill="#E9545F" shape-rendering="crispEdges"/>
<rect x="534.04" y="1668.48" width="39.93" height="31.14" fill="#FBB47B" shape-rendering="crispEdges"/>
<rect x="573.97" y="1668.48" width="39.93" height="31.14" fill="#FBB47B" shape-rendering="crispEdges"/>
<rect x="613.90" y="1668.48" width="39.93" height="31.14" fill="#FBB47B" shape-rendering="crispEdges"/>
<rect x="653.83" y="1668.48" width="39.93" height="31.14" fill="#FBB47B" shape-rendering="crispEdges"/>
<rect x="214.60" y="1699.62" width="39.93" height="31.14" fill="#E9545F" shape-rendering="crispEdges"/>
<rect x="254.53" y="1699.62" width="39.93" height="31.14" fill="#FBB47B" shape-rendering="crispEdges"/>
<rect x="294.46" y="1699.62" width="39.93" height="31.14" fill="#E9545F" shape-rendering="crispEdges"/>
<rect x="334.39" y="1699.62" width="39.93" height="31.14" fill="#FBB47B" shape-rendering="crispEdges"/>
<rect x="374.32" y="1699.62" width="39.93" height="31.14" fill="#FBB47B" shape-rendering="crispEdges"/>
<rect x="414.25" y="1699.62" width="39.93" height="31.14" fill="#FBB47B" shape-rendering="crispEdges"/>
<rect x="454.18" y="1699.62" width="39.93" height="31.14" fill="#FBB47B" shape-rendering="crispEdges"/>
<rect x="494.11" y="1699.62" width="39.93" height="31.14" fill="#FBB47B" shape-rendering="crispEdges"/>
<rect x="534.04" y="1699.62" width="39.93" height="31.14" fill="#FBB47B" shape-rendering="crispEdges"/>
<rect x="573.97" y="1699.62" width="39.93" height="31.14" fill="#FBB47B" shape-rendering="crispEdges"/>
<rect x="613.90" y="1699.62" width="39.93" height="31.14" fill="#FBB47B" shape-rendering="crispEdges"/>
<rect x="653.83" y="1699.62" width="39.93" height="31.14" fill="#FBB47B" shape-rendering="crispEdges"/>
<rect x="693.76" y="1699.62" width="39.93" height="31.14" fill="#FBB47B" shape-rendering="crispEdges"/>
<rect x="214.60" y="1730.76" width="39.93" height="31.14" fill="#E9545F" shape-rendering="crispEdges"/>
<rect x="254.53" y="1730.76" width="39.93" height="31.14" fill="#FBB47B" shape-rendering="crispEdges"/>
<rect x="294.46" y="1730.76" width="39.93" height="31.14" fill="#E9545F" shape-rendering="crispEdges"/>
<rect x="334.39" y="1730.76" width="39.93" height="31.14" fill="#FBB47B" shape-rendering="crispEdges"/>
<rect x="374.32" y="1730.76" width="39.93" height="31.14" fill="#FBB47B" shape-rendering="crispEdges"/>
<rect x="414.25" y="1730.76" width="39.93" height="31.14" fill="#FBB47B" shape-rendering="crispEdges"/>
<rect x="454.18" y="1730.76" width="39.93" height="31.14" fill="#FBB47B" shape-rendering="crispEdges"/>
<rect x="494.11" y="1730.76" width="39.93" height="31.14" fill="#FBB47B" shape-rendering="crispEdges"/>
<rect x="534.04" y="1730.76" width="39.93" height="31.14" fill="#E9545F" shape-rendering="crispEdges"/>
<rect x="573.97" y="1730.76" width="39.93" height="31.14" fill="#FBB47B" shape-rendering="crispEdges"/>
<rect x="613.90" y="1730.76" width="39.93" height="31.14" fill="#E9545F" shape-rendering="crispEdges"/>
<rect x="653.83" y="1730.76" width="39.93" height="31.14" fill="#FBB47B" shape-rendering="crispEdges"/>
<rect x="693.76" y="1730.76" width="39.93" height="31.14" fill="#FBB47B" shape-rendering="crispEdges"/>
<rect x="214.60" y="1761.90" width="39.93" height="31.14" fill="#E9545F" shape-rendering="crispEdges"/>
<rect x="254.53" y="1761.90" width="39.93" height="31.14" fill="#FBB47B" shape-rendering="crispEdges"/>
<rect x="294.46" y="1761.90" width="39.93" height="31.14" fill="#E9545F" shape-rendering="crispEdges"/>
<rect x="334.39" y="1761.90" width="39.93" height="31.14" fill="#FBB47B" shape-rendering="crispEdges"/>
<rect x="374.32" y="1761.90" width="39.93" height="31.14" fill="#FBB47B" shape-rendering="crispEdges"/>
<rect x="414.25" y="1761.90" width="39.93" height="31.14" fill="#FBB47B" shape-rendering="crispEdges"/>
<rect x="454.18" y="1761.90" width="39.93" height="31.14" fill="#E9545F" shape-rendering="crispEdges"/>
<rect x="494.11" y="1761.90" width="39.93" height="31.14" fill="#E9545F" shape-rendering="crispEdges"/>
<rect x="534.04" y="1761.90" width="39.93" height="31.14" fill="#FBB47B" shape-rendering="crispEdges"/>
<rect x="573.97" y="1761.90" width="39.93" height="31.14" fill="#FBB47B" shape-rendering="crispEdges"/>
<rect x="613.90" y="1761.90" width="39.93" height="31.14" fill="#FBB47B" shape-rendering="crispEdges"/>
<rect x="653.83" y="1761.90" width="39.93" height="31.14" fill="#FBB47B" shape-rendering="crispEdges"/>
<rect x="693.76" y="1761.90" width="39.93" height="31.14" fill="#FBB47B" shape-rendering="crispEdges"/>
<rect x="733.69" y="1761.90" width="39.93" height="31.14" fill="#FBB47B" shape-rendering="crispEdges"/>
<rect x="211.70" y="1448.40" width="565.30" height="347.10" fill="none" stroke="#333" stroke-width="3.8"/>
<text x="200.4" y="1471.0" font-size="17.9" text-anchor="end">Naive2</text>
<text x="200.4" y="1502.1" font-size="17.9" text-anchor="end">Stress/HSP</text>
<text x="200.4" y="1533.2" font-size="17.9" text-anchor="end">Unassigned</text>
<text x="200.4" y="1564.4" font-size="17.9" text-anchor="end">Glycolysis/MYC</text>
<text x="200.4" y="1595.5" font-size="17.9" text-anchor="end">Interferon</text>
<text x="200.4" y="1626.7" font-size="17.9" text-anchor="end">Dysfunction</text>
<text x="200.4" y="1657.8" font-size="17.9" text-anchor="end">MHC−II</text>
<text x="200.4" y="1689.0" font-size="17.9" text-anchor="end">Cytotoxic</text>
<text x="200.4" y="1720.1" font-size="17.9" text-anchor="end">Cell_cycle</text>
<text x="200.4" y="1751.2" font-size="17.9" text-anchor="end">Naive1</text>
<text x="200.4" y="1782.4" font-size="17.9" text-anchor="end">T_reg</text>
<text transform="translate(240.1,1800.1) rotate(-90)" font-size="18.2" text-anchor="end" textLength="52.8" lengthAdjust="spacingAndGlyphs">HNSCC</text>
<text transform="translate(280.0,1800.1) rotate(-90)" font-size="18.2" text-anchor="end" textLength="52.4" lengthAdjust="spacingAndGlyphs">Breast</text>
<text transform="translate(319.9,1800.1) rotate(-90)" font-size="18.2" text-anchor="end" textLength="61.0" lengthAdjust="spacingAndGlyphs">NSCLC</text>
<text transform="translate(359.9,1800.1) rotate(-90)" font-size="18.2" text-anchor="end" textLength="106.1" lengthAdjust="spacingAndGlyphs">Neuroendocrine</text>
<text transform="translate(399.8,1800.1) rotate(-90)" font-size="18.2" text-anchor="end" textLength="90.6" lengthAdjust="spacingAndGlyphs">Skin (SCC)</text>
<text transform="translate(439.7,1800.1) rotate(-90)" font-size="18.2" text-anchor="end" textLength="117.7" lengthAdjust="spacingAndGlyphs">Osteosarcoma</text>
<text transform="translate(479.6,1800.1) rotate(-90)" font-size="18.2" text-anchor="end" textLength="66.8" lengthAdjust="spacingAndGlyphs">Colorectal</text>
<text transform="translate(519.6,1800.1) rotate(-90)" font-size="18.2" text-anchor="end" textLength="49.9" lengthAdjust="spacingAndGlyphs">PDAC</text>
<text transform="translate(559.5,1800.1) rotate(-90)" font-size="18.2" text-anchor="end" textLength="39.3" lengthAdjust="spacingAndGlyphs">Liver</text>
<text transform="translate(599.4,1800.1) rotate(-90)" font-size="18.2" text-anchor="end" textLength="47.0" lengthAdjust="spacingAndGlyphs">Renal</text>
<text transform="translate(639.4,1800.1) rotate(-90)" font-size="18.2" text-anchor="end" textLength="84.8" lengthAdjust="spacingAndGlyphs">Melanoma</text>
<text transform="translate(679.3,1800.1) rotate(-90)" font-size="18.2" text-anchor="end" textLength="117.7" lengthAdjust="spacingAndGlyphs">Synovial sarcoma</text>
<text transform="translate(719.2,1800.1) rotate(-90)" font-size="18.2" text-anchor="end" textLength="63.5" lengthAdjust="spacingAndGlyphs">Ovarian</text>
<text transform="translate(759.2,1800.1) rotate(-90)" font-size="18.2" text-anchor="end" textLength="90.6" lengthAdjust="spacingAndGlyphs">Schwannoma</text>
<rect x="783.10" y="1452.00" width="5.60" height="28.30" fill="#D8D8D9" shape-rendering="crispEdges"/>
<rect x="783.10" y="1483.10" width="12.10" height="28.30" fill="#D8D8D9" shape-rendering="crispEdges"/>
<rect x="783.10" y="1514.20" width="31.10" height="28.30" fill="#838487" shape-rendering="crispEdges"/>
<rect x="783.10" y="1545.30" width="37.00" height="28.30" fill="#838487" shape-rendering="crispEdges"/>
<rect x="783.10" y="1576.40" width="37.00" height="28.30" fill="#838487" shape-rendering="crispEdges"/>
<rect x="783.10" y="1607.50" width="37.00" height="28.30" fill="#838487" shape-rendering="crispEdges"/>
<rect x="783.10" y="1638.60" width="43.10" height="28.30" fill="#838487" shape-rendering="crispEdges"/>
<rect x="783.10" y="1669.70" width="74.70" height="28.30" fill="#100E0D" shape-rendering="crispEdges"/>
<rect x="783.10" y="1700.80" width="80.80" height="28.30" fill="#100E0D" shape-rendering="crispEdges"/>
<rect x="783.10" y="1731.90" width="80.80" height="28.30" fill="#100E0D" shape-rendering="crispEdges"/>
<rect x="783.10" y="1763.00" width="86.70" height="28.30" fill="#100E0D" shape-rendering="crispEdges"/>
<line x1="782.80" y1="1791.60" x2="782.80" y2="1795.00" stroke="#111" stroke-width="1.3"/>
<text x="784.0" y="1816.3" font-size="16.9" text-anchor="middle">0</text>
<line x1="814.40" y1="1791.60" x2="814.40" y2="1795.00" stroke="#111" stroke-width="1.3"/>
<text x="814.1" y="1816.3" font-size="16.9" text-anchor="middle">5</text>
<line x1="845.10" y1="1791.60" x2="845.10" y2="1795.00" stroke="#111" stroke-width="1.3"/>
<text x="843.6" y="1816.3" font-size="16.9" text-anchor="middle">10</text>
<text x="496.8" y="1435.0" font-size="28.4" text-anchor="middle" textLength="122.5" lengthAdjust="spacingAndGlyphs">CD4 cells</text>
<text x="514.2" y="1938.2" font-size="24.3" text-anchor="middle" textLength="135.6" lengthAdjust="spacingAndGlyphs">Cancer type</text>
<text x="785.2" y="1843.9" font-size="24.2" text-anchor="start" textLength="114.4" lengthAdjust="spacingAndGlyphs">Number of</text>
<text x="785.2" y="1873.5" font-size="24.2" text-anchor="start" textLength="138.3" lengthAdjust="spacingAndGlyphs">cancer types</text>
<text transform="translate(27.5,1639.5) rotate(-90)" font-size="24.7" text-anchor="middle" textLength="168.5" lengthAdjust="spacingAndGlyphs">Meta-programs</text>
<rect x="1127.40" y="1449.80" width="37.31" height="28.64" fill="#7C2084" shape-rendering="crispEdges"/>
<rect x="1164.71" y="1449.80" width="37.31" height="28.64" fill="#FCE3A6" shape-rendering="crispEdges"/>
<rect x="1313.95" y="1449.80" width="37.31" height="28.64" fill="#FCE3A6" shape-rendering="crispEdges"/>
<rect x="1575.12" y="1449.80" width="37.31" height="28.64" fill="#FBB47B" shape-rendering="crispEdges"/>
<rect x="1127.40" y="1478.44" width="37.31" height="28.64" fill="#FBB47B" shape-rendering="crispEdges"/>
<rect x="1164.71" y="1478.44" width="37.31" height="28.64" fill="#FCE3A6" shape-rendering="crispEdges"/>
<rect x="1313.95" y="1478.44" width="37.31" height="28.64" fill="#E9545F" shape-rendering="crispEdges"/>
<rect x="1351.26" y="1478.44" width="37.31" height="28.64" fill="#E9545F" shape-rendering="crispEdges"/>
<rect x="1425.88" y="1478.44" width="37.31" height="28.64" fill="#FBB47B" shape-rendering="crispEdges"/>
<rect x="1127.40" y="1507.08" width="37.31" height="28.64" fill="#E9545F" shape-rendering="crispEdges"/>
<rect x="1388.57" y="1507.08" width="37.31" height="28.64" fill="#E9545F" shape-rendering="crispEdges"/>
<rect x="1425.88" y="1507.08" width="37.31" height="28.64" fill="#FCE3A6" shape-rendering="crispEdges"/>
<rect x="1463.19" y="1507.08" width="37.31" height="28.64" fill="#E9545F" shape-rendering="crispEdges"/>
<rect x="1500.50" y="1507.08" width="37.31" height="28.64" fill="#FBB47B" shape-rendering="crispEdges"/>
<rect x="1164.71" y="1535.72" width="37.31" height="28.64" fill="#E9545F" shape-rendering="crispEdges"/>
<rect x="1239.33" y="1535.72" width="37.31" height="28.64" fill="#E9545F" shape-rendering="crispEdges"/>
<rect x="1313.95" y="1535.72" width="37.31" height="28.64" fill="#E9545F" shape-rendering="crispEdges"/>
<rect x="1463.19" y="1535.72" width="37.31" height="28.64" fill="#FBB47B" shape-rendering="crispEdges"/>
<rect x="1127.40" y="1564.36" width="37.31" height="28.64" fill="#FBB47B" shape-rendering="crispEdges"/>
<rect x="1164.71" y="1564.36" width="37.31" height="28.64" fill="#FBB47B" shape-rendering="crispEdges"/>
<rect x="1313.95" y="1564.36" width="37.31" height="28.64" fill="#7C2084" shape-rendering="crispEdges"/>
<rect x="1463.19" y="1564.36" width="37.31" height="28.64" fill="#E9545F" shape-rendering="crispEdges"/>
<rect x="1127.40" y="1593.00" width="37.31" height="28.64" fill="#FBB47B" shape-rendering="crispEdges"/>
<rect x="1164.71" y="1593.00" width="37.31" height="28.64" fill="#FBB47B" shape-rendering="crispEdges"/>
<rect x="1239.33" y="1593.00" width="37.31" height="28.64" fill="#FBB47B" shape-rendering="crispEdges"/>
<rect x="1425.88" y="1593.00" width="37.31" height="28.64" fill="#FBB47B" shape-rendering="crispEdges"/>
<rect x="1463.19" y="1593.00" width="37.31" height="28.64" fill="#FBB47B" shape-rendering="crispEdges"/>
<rect x="1127.40" y="1621.64" width="37.31" height="28.64" fill="#FBB47B" shape-rendering="crispEdges"/>
<rect x="1164.71" y="1621.64" width="37.31" height="28.64" fill="#FBB47B" shape-rendering="crispEdges"/>
<rect x="1351.26" y="1621.64" width="37.31" height="28.64" fill="#FBB47B" shape-rendering="crispEdges"/>
<rect x="1388.57" y="1621.64" width="37.31" height="28.64" fill="#FBB47B" shape-rendering="crispEdges"/>
<rect x="1425.88" y="1621.64" width="37.31" height="28.64" fill="#FBB47B" shape-rendering="crispEdges"/>
<rect x="1500.50" y="1621.64" width="37.31" height="28.64" fill="#FBB47B" shape-rendering="crispEdges"/>
<rect x="1127.40" y="1650.28" width="37.31" height="28.64" fill="#FBB47B" shape-rendering="crispEdges"/>
<rect x="1164.71" y="1650.28" width="37.31" height="28.64" fill="#FBB47B" shape-rendering="crispEdges"/>
<rect x="1202.02" y="1650.28" width="37.31" height="28.64" fill="#FBB47B" shape-rendering="crispEdges"/>
<rect x="1276.64" y="1650.28" width="37.31" height="28.64" fill="#FCE3A6" shape-rendering="crispEdges"/>
<rect x="1388.57" y="1650.28" width="37.31" height="28.64" fill="#FBB47B" shape-rendering="crispEdges"/>
<rect x="1425.88" y="1650.28" width="37.31" height="28.64" fill="#E9545F" shape-rendering="crispEdges"/>
<rect x="1463.19" y="1650.28" width="37.31" height="28.64" fill="#FBB47B" shape-rendering="crispEdges"/>
<rect x="1127.40" y="1678.92" width="37.31" height="28.64" fill="#FBB47B" shape-rendering="crispEdges"/>
<rect x="1164.71" y="1678.92" width="37.31" height="28.64" fill="#FBB47B" shape-rendering="crispEdges"/>
<rect x="1202.02" y="1678.92" width="37.31" height="28.64" fill="#FBB47B" shape-rendering="crispEdges"/>
<rect x="1239.33" y="1678.92" width="37.31" height="28.64" fill="#E9545F" shape-rendering="crispEdges"/>
<rect x="1276.64" y="1678.92" width="37.31" height="28.64" fill="#E9545F" shape-rendering="crispEdges"/>
<rect x="1313.95" y="1678.92" width="37.31" height="28.64" fill="#FCE3A6" shape-rendering="crispEdges"/>
<rect x="1388.57" y="1678.92" width="37.31" height="28.64" fill="#FCE3A6" shape-rendering="crispEdges"/>
<rect x="1425.88" y="1678.92" width="37.31" height="28.64" fill="#FCE3A6" shape-rendering="crispEdges"/>
<rect x="1500.50" y="1678.92" width="37.31" height="28.64" fill="#FBB47B" shape-rendering="crispEdges"/>
<rect x="1537.81" y="1678.92" width="37.31" height="28.64" fill="#FBB47B" shape-rendering="crispEdges"/>
<rect x="1127.40" y="1707.56" width="37.31" height="28.64" fill="#E9545F" shape-rendering="crispEdges"/>
<rect x="1164.71" y="1707.56" width="37.31" height="28.64" fill="#E9545F" shape-rendering="crispEdges"/>
<rect x="1202.02" y="1707.56" width="37.31" height="28.64" fill="#FBB47B" shape-rendering="crispEdges"/>
<rect x="1239.33" y="1707.56" width="37.31" height="28.64" fill="#FBB47B" shape-rendering="crispEdges"/>
<rect x="1276.64" y="1707.56" width="37.31" height="28.64" fill="#E9545F" shape-rendering="crispEdges"/>
<rect x="1313.95" y="1707.56" width="37.31" height="28.64" fill="#E9545F" shape-rendering="crispEdges"/>
<rect x="1351.26" y="1707.56" width="37.31" height="28.64" fill="#FBB47B" shape-rendering="crispEdges"/>
<rect x="1388.57" y="1707.56" width="37.31" height="28.64" fill="#E9545F" shape-rendering="crispEdges"/>
<rect x="1425.88" y="1707.56" width="37.31" height="28.64" fill="#E9545F" shape-rendering="crispEdges"/>
<rect x="1463.19" y="1707.56" width="37.31" height="28.64" fill="#FBB47B" shape-rendering="crispEdges"/>
<rect x="1500.50" y="1707.56" width="37.31" height="28.64" fill="#FBB47B" shape-rendering="crispEdges"/>
<rect x="1537.81" y="1707.56" width="37.31" height="28.64" fill="#E9545F" shape-rendering="crispEdges"/>
<rect x="1612.43" y="1707.56" width="37.31" height="28.64" fill="#FBB47B" shape-rendering="crispEdges"/>
<rect x="1127.40" y="1736.20" width="37.31" height="28.64" fill="#E9545F" shape-rendering="crispEdges"/>
<rect x="1164.71" y="1736.20" width="37.31" height="28.64" fill="#E9545F" shape-rendering="crispEdges"/>
<rect x="1202.02" y="1736.20" width="37.31" height="28.64" fill="#FBB47B" shape-rendering="crispEdges"/>
<rect x="1239.33" y="1736.20" width="37.31" height="28.64" fill="#E9545F" shape-rendering="crispEdges"/>
<rect x="1276.64" y="1736.20" width="37.31" height="28.64" fill="#E9545F" shape-rendering="crispEdges"/>
<rect x="1313.95" y="1736.20" width="37.31" height="28.64" fill="#E9545F" shape-rendering="crispEdges"/>
<rect x="1351.26" y="1736.20" width="37.31" height="28.64" fill="#E9545F" shape-rendering="crispEdges"/>
<rect x="1388.57" y="1736.20" width="37.31" height="28.64" fill="#E9545F" shape-rendering="crispEdges"/>
<rect x="1425.88" y="1736.20" width="37.31" height="28.64" fill="#E9545F" shape-rendering="crispEdges"/>
<rect x="1463.19" y="1736.20" width="37.31" height="28.64" fill="#FBB47B" shape-rendering="crispEdges"/>
<rect x="1500.50" y="1736.20" width="37.31" height="28.64" fill="#FBB47B" shape-rendering="crispEdges"/>
<rect x="1537.81" y="1736.20" width="37.31" height="28.64" fill="#FBB47B" shape-rendering="crispEdges"/>
<rect x="1575.12" y="1736.20" width="37.31" height="28.64" fill="#FBB47B" shape-rendering="crispEdges"/>
<rect x="1127.40" y="1764.84" width="37.31" height="28.64" fill="#E9545F" shape-rendering="crispEdges"/>
<rect x="1164.71" y="1764.84" width="37.31" height="28.64" fill="#E9545F" shape-rendering="crispEdges"/>
<rect x="1202.02" y="1764.84" width="37.31" height="28.64" fill="#FBB47B" shape-rendering="crispEdges"/>
<rect x="1239.33" y="1764.84" width="37.31" height="28.64" fill="#FBB47B" shape-rendering="crispEdges"/>
<rect x="1276.64" y="1764.84" width="37.31" height="28.64" fill="#E9545F" shape-rendering="crispEdges"/>
<rect x="1313.95" y="1764.84" width="37.31" height="28.64" fill="#FBB47B" shape-rendering="crispEdges"/>
<rect x="1351.26" y="1764.84" width="37.31" height="28.64" fill="#FBB47B" shape-rendering="crispEdges"/>
<rect x="1388.57" y="1764.84" width="37.31" height="28.64" fill="#FBB47B" shape-rendering="crispEdges"/>
<rect x="1425.88" y="1764.84" width="37.31" height="28.64" fill="#FBB47B" shape-rendering="crispEdges"/>
<rect x="1463.19" y="1764.84" width="37.31" height="28.64" fill="#E9545F" shape-rendering="crispEdges"/>
<rect x="1500.50" y="1764.84" width="37.31" height="28.64" fill="#FBB47B" shape-rendering="crispEdges"/>
<rect x="1575.12" y="1764.84" width="37.31" height="28.64" fill="#FBB47B" shape-rendering="crispEdges"/>
<rect x="1612.43" y="1764.84" width="37.31" height="28.64" fill="#FBB47B" shape-rendering="crispEdges"/>
<rect x="1649.74" y="1764.84" width="37.31" height="28.64" fill="#FBB47B" shape-rendering="crispEdges"/>
<rect x="1124.50" y="1447.80" width="565.10" height="347.50" fill="none" stroke="#333" stroke-width="3.8"/>
<text x="1116.0" y="1469.6" font-size="17.9" text-anchor="end">Unassigned1</text>
<text x="1116.0" y="1498.3" font-size="17.9" text-anchor="end">Naive3</text>
<text x="1116.0" y="1526.9" font-size="17.9" text-anchor="end">Unassigned2</text>
<text x="1116.0" y="1555.5" font-size="17.9" text-anchor="end">Chromatin</text>
<text x="1116.0" y="1584.2" font-size="17.9" text-anchor="end">Naive2</text>
<text x="1116.0" y="1612.8" font-size="17.9" text-anchor="end">Dysfunction</text>
<text x="1116.0" y="1641.5" font-size="17.9" text-anchor="end">Heat_shock</text>
<text x="1116.0" y="1670.1" font-size="17.9" text-anchor="end">Glycolysis/MYC</text>
<text x="1116.0" y="1698.7" font-size="17.9" text-anchor="end">Interferon</text>
<text x="1116.0" y="1727.4" font-size="17.9" text-anchor="end">Cell_cycle</text>
<text x="1116.0" y="1756.0" font-size="17.9" text-anchor="end">Cytotoxic</text>
<text x="1116.0" y="1784.7" font-size="17.9" text-anchor="end">Memory/Naive1</text>
<text transform="translate(1151.6,1803.3) rotate(-90)" font-size="18.2" text-anchor="end" textLength="60.8" lengthAdjust="spacingAndGlyphs">NSCLC</text>
<text transform="translate(1188.9,1803.3) rotate(-90)" font-size="18.2" text-anchor="end" textLength="63.5" lengthAdjust="spacingAndGlyphs">HNSCC</text>
<text transform="translate(1226.2,1803.3) rotate(-90)" font-size="18.2" text-anchor="end" textLength="90.2" lengthAdjust="spacingAndGlyphs">Skin (SCC)</text>
<text transform="translate(1263.5,1803.3) rotate(-90)" font-size="18.2" text-anchor="end" textLength="52.1" lengthAdjust="spacingAndGlyphs">Breast</text>
<text transform="translate(1300.8,1803.3) rotate(-90)" font-size="18.2" text-anchor="end" textLength="84.4" lengthAdjust="spacingAndGlyphs">Melanoma</text>
<text transform="translate(1338.1,1803.3) rotate(-90)" font-size="18.2" text-anchor="end" textLength="49.9" lengthAdjust="spacingAndGlyphs">PDAC</text>
<text transform="translate(1375.4,1803.3) rotate(-90)" font-size="18.2" text-anchor="end" textLength="81.5" lengthAdjust="spacingAndGlyphs">Colorectal</text>
<text transform="translate(1412.7,1803.3) rotate(-90)" font-size="18.2" text-anchor="end" textLength="46.6" lengthAdjust="spacingAndGlyphs">Renal</text>
<text transform="translate(1450.0,1803.3) rotate(-90)" font-size="18.2" text-anchor="end" textLength="39.9" lengthAdjust="spacingAndGlyphs">Liver</text>
<text transform="translate(1487.3,1803.3) rotate(-90)" font-size="18.2" text-anchor="end" textLength="128.6" lengthAdjust="spacingAndGlyphs">Neuroendocrine</text>
<text transform="translate(1524.7,1803.3) rotate(-90)" font-size="18.2" text-anchor="end" textLength="142.5" lengthAdjust="spacingAndGlyphs">Synovial sarcoma</text>
<text transform="translate(1562.0,1803.3) rotate(-90)" font-size="18.2" text-anchor="end" textLength="63.1" lengthAdjust="spacingAndGlyphs">Ovarian</text>
<text transform="translate(1599.3,1803.3) rotate(-90)" font-size="18.2" text-anchor="end" textLength="117.3" lengthAdjust="spacingAndGlyphs">Osteosarcoma</text>
<text transform="translate(1636.6,1803.3) rotate(-90)" font-size="18.2" text-anchor="end" textLength="109.6" lengthAdjust="spacingAndGlyphs">Schwannoma</text>
<text transform="translate(1673.9,1803.3) rotate(-90)" font-size="18.2" text-anchor="end" textLength="56.9" lengthAdjust="spacingAndGlyphs">Glioma</text>
<rect x="1699.00" y="1452.00" width="12.10" height="26.00" fill="#D8D8D9" shape-rendering="crispEdges"/>
<rect x="1699.00" y="1480.54" width="24.50" height="26.00" fill="#D8D8D9" shape-rendering="crispEdges"/>
<rect x="1699.00" y="1509.08" width="24.50" height="26.00" fill="#D8D8D9" shape-rendering="crispEdges"/>
<rect x="1699.00" y="1537.62" width="24.50" height="26.00" fill="#D8D8D9" shape-rendering="crispEdges"/>
<rect x="1699.00" y="1566.16" width="24.50" height="26.00" fill="#D8D8D9" shape-rendering="crispEdges"/>
<rect x="1699.00" y="1594.70" width="31.10" height="26.00" fill="#838487" shape-rendering="crispEdges"/>
<rect x="1699.00" y="1623.24" width="36.70" height="26.00" fill="#838487" shape-rendering="crispEdges"/>
<rect x="1699.00" y="1651.78" width="36.70" height="26.00" fill="#838487" shape-rendering="crispEdges"/>
<rect x="1699.00" y="1680.32" width="43.30" height="26.00" fill="#838487" shape-rendering="crispEdges"/>
<rect x="1699.00" y="1708.86" width="80.80" height="26.00" fill="#100E0D" shape-rendering="crispEdges"/>
<rect x="1699.00" y="1737.40" width="80.80" height="26.00" fill="#100E0D" shape-rendering="crispEdges"/>
<rect x="1699.00" y="1765.94" width="86.90" height="26.00" fill="#100E0D" shape-rendering="crispEdges"/>
<line x1="1698.80" y1="1791.80" x2="1698.80" y2="1797.00" stroke="#111" stroke-width="1.3"/>
<text x="1699.7" y="1816.3" font-size="16.9" text-anchor="middle">0</text>
<line x1="1730.00" y1="1791.80" x2="1730.00" y2="1797.00" stroke="#111" stroke-width="1.3"/>
<text x="1730.0" y="1816.3" font-size="16.9" text-anchor="middle">5</text>
<line x1="1761.00" y1="1791.80" x2="1761.00" y2="1797.00" stroke="#111" stroke-width="1.3"/>
<text x="1761.5" y="1816.3" font-size="16.9" text-anchor="middle">10</text>
<text x="1415.0" y="1435.0" font-size="28.4" text-anchor="middle" textLength="122.3" lengthAdjust="spacingAndGlyphs">CD8 cells</text>
<text x="1392.7" y="1938.8" font-size="24.3" text-anchor="middle" textLength="135.6" lengthAdjust="spacingAndGlyphs">Cancer type</text>
<text x="1695.3" y="1843.9" font-size="24.2" text-anchor="start" textLength="114.4" lengthAdjust="spacingAndGlyphs">Number of</text>
<text x="1695.3" y="1873.5" font-size="24.2" text-anchor="start" textLength="138.3" lengthAdjust="spacingAndGlyphs">cancer types</text>
<text transform="translate(968.0,1621.4) rotate(-90)" font-size="24.7" text-anchor="middle" textLength="168.5" lengthAdjust="spacingAndGlyphs">Meta-programs</text>
<rect x="214.20" y="2008.50" width="32.95" height="28.62" fill="#FCE3A6" shape-rendering="crispEdges"/>
<rect x="280.10" y="2008.50" width="32.95" height="28.62" fill="#7C2084" shape-rendering="crispEdges"/>
<rect x="280.10" y="2037.12" width="32.95" height="28.62" fill="#FCE3A6" shape-rendering="crispEdges"/>
<rect x="346.00" y="2037.12" width="32.95" height="28.62" fill="#7C2084" shape-rendering="crispEdges"/>
<rect x="477.80" y="2037.12" width="32.95" height="28.62" fill="#E9545F" shape-rendering="crispEdges"/>
<rect x="708.45" y="2037.12" width="32.95" height="28.62" fill="#E9545F" shape-rendering="crispEdges"/>
<rect x="346.00" y="2065.74" width="32.95" height="28.62" fill="#FCE3A6" shape-rendering="crispEdges"/>
<rect x="543.70" y="2065.74" width="32.95" height="28.62" fill="#FBB47B" shape-rendering="crispEdges"/>
<rect x="609.60" y="2065.74" width="32.95" height="28.62" fill="#7C2084" shape-rendering="crispEdges"/>
<rect x="642.55" y="2065.74" width="32.95" height="28.62" fill="#FBB47B" shape-rendering="crispEdges"/>
<rect x="378.95" y="2094.36" width="32.95" height="28.62" fill="#FBB47B" shape-rendering="crispEdges"/>
<rect x="477.80" y="2094.36" width="32.95" height="28.62" fill="#FBB47B" shape-rendering="crispEdges"/>
<rect x="609.60" y="2094.36" width="32.95" height="28.62" fill="#E9545F" shape-rendering="crispEdges"/>
<rect x="642.55" y="2094.36" width="32.95" height="28.62" fill="#FBB47B" shape-rendering="crispEdges"/>
<rect x="214.20" y="2122.98" width="32.95" height="28.62" fill="#FCE3A6" shape-rendering="crispEdges"/>
<rect x="247.15" y="2122.98" width="32.95" height="28.62" fill="#FBB47B" shape-rendering="crispEdges"/>
<rect x="477.80" y="2122.98" width="32.95" height="28.62" fill="#FBB47B" shape-rendering="crispEdges"/>
<rect x="576.65" y="2122.98" width="32.95" height="28.62" fill="#E9545F" shape-rendering="crispEdges"/>
<rect x="675.50" y="2122.98" width="32.95" height="28.62" fill="#FBB47B" shape-rendering="crispEdges"/>
<rect x="741.40" y="2122.98" width="32.95" height="28.62" fill="#FBB47B" shape-rendering="crispEdges"/>
<rect x="214.20" y="2151.60" width="32.95" height="28.62" fill="#FBB47B" shape-rendering="crispEdges"/>
<rect x="378.95" y="2151.60" width="32.95" height="28.62" fill="#7C2084" shape-rendering="crispEdges"/>
<rect x="444.85" y="2151.60" width="32.95" height="28.62" fill="#FBB47B" shape-rendering="crispEdges"/>
<rect x="477.80" y="2151.60" width="32.95" height="28.62" fill="#FCE3A6" shape-rendering="crispEdges"/>
<rect x="576.65" y="2151.60" width="32.95" height="28.62" fill="#FBB47B" shape-rendering="crispEdges"/>
<rect x="609.60" y="2151.60" width="32.95" height="28.62" fill="#FBB47B" shape-rendering="crispEdges"/>
<rect x="642.55" y="2151.60" width="32.95" height="28.62" fill="#FBB47B" shape-rendering="crispEdges"/>
<rect x="214.20" y="2180.22" width="32.95" height="28.62" fill="#FBB47B" shape-rendering="crispEdges"/>
<rect x="247.15" y="2180.22" width="32.95" height="28.62" fill="#FCE3A6" shape-rendering="crispEdges"/>
<rect x="280.10" y="2180.22" width="32.95" height="28.62" fill="#FCE3A6" shape-rendering="crispEdges"/>
<rect x="378.95" y="2180.22" width="32.95" height="28.62" fill="#FBB47B" shape-rendering="crispEdges"/>
<rect x="444.85" y="2180.22" width="32.95" height="28.62" fill="#FBB47B" shape-rendering="crispEdges"/>
<rect x="477.80" y="2180.22" width="32.95" height="28.62" fill="#FBB47B" shape-rendering="crispEdges"/>
<rect x="543.70" y="2180.22" width="32.95" height="28.62" fill="#FBB47B" shape-rendering="crispEdges"/>
<rect x="609.60" y="2180.22" width="32.95" height="28.62" fill="#FBB47B" shape-rendering="crispEdges"/>
<rect x="642.55" y="2180.22" width="32.95" height="28.62" fill="#FBB47B" shape-rendering="crispEdges"/>
<rect x="214.20" y="2208.84" width="32.95" height="28.62" fill="#FBB47B" shape-rendering="crispEdges"/>
<rect x="313.05" y="2208.84" width="32.95" height="28.62" fill="#FBB47B" shape-rendering="crispEdges"/>
<rect x="346.00" y="2208.84" width="32.95" height="28.62" fill="#FBB47B" shape-rendering="crispEdges"/>
<rect x="378.95" y="2208.84" width="32.95" height="28.62" fill="#FBB47B" shape-rendering="crispEdges"/>
<rect x="477.80" y="2208.84" width="32.95" height="28.62" fill="#FCE3A6" shape-rendering="crispEdges"/>
<rect x="543.70" y="2208.84" width="32.95" height="28.62" fill="#FBB47B" shape-rendering="crispEdges"/>
<rect x="609.60" y="2208.84" width="32.95" height="28.62" fill="#7C2084" shape-rendering="crispEdges"/>
<rect x="642.55" y="2208.84" width="32.95" height="28.62" fill="#FBB47B" shape-rendering="crispEdges"/>
<rect x="675.50" y="2208.84" width="32.95" height="28.62" fill="#FBB47B" shape-rendering="crispEdges"/>
<rect x="708.45" y="2208.84" width="32.95" height="28.62" fill="#FBB47B" shape-rendering="crispEdges"/>
<rect x="214.20" y="2237.46" width="32.95" height="28.62" fill="#7C2084" shape-rendering="crispEdges"/>
<rect x="247.15" y="2237.46" width="32.95" height="28.62" fill="#7C2084" shape-rendering="crispEdges"/>
<rect x="280.10" y="2237.46" width="32.95" height="28.62" fill="#FBB47B" shape-rendering="crispEdges"/>
<rect x="313.05" y="2237.46" width="32.95" height="28.62" fill="#FBB47B" shape-rendering="crispEdges"/>
<rect x="346.00" y="2237.46" width="32.95" height="28.62" fill="#E9545F" shape-rendering="crispEdges"/>
<rect x="378.95" y="2237.46" width="32.95" height="28.62" fill="#FBB47B" shape-rendering="crispEdges"/>
<rect x="411.90" y="2237.46" width="32.95" height="28.62" fill="#FBB47B" shape-rendering="crispEdges"/>
<rect x="477.80" y="2237.46" width="32.95" height="28.62" fill="#FBB47B" shape-rendering="crispEdges"/>
<rect x="510.75" y="2237.46" width="32.95" height="28.62" fill="#FBB47B" shape-rendering="crispEdges"/>
<rect x="576.65" y="2237.46" width="32.95" height="28.62" fill="#7C2084" shape-rendering="crispEdges"/>
<rect x="214.20" y="2266.08" width="32.95" height="28.62" fill="#E9545F" shape-rendering="crispEdges"/>
<rect x="247.15" y="2266.08" width="32.95" height="28.62" fill="#FBB47B" shape-rendering="crispEdges"/>
<rect x="280.10" y="2266.08" width="32.95" height="28.62" fill="#FBB47B" shape-rendering="crispEdges"/>
<rect x="313.05" y="2266.08" width="32.95" height="28.62" fill="#FBB47B" shape-rendering="crispEdges"/>
<rect x="346.00" y="2266.08" width="32.95" height="28.62" fill="#FBB47B" shape-rendering="crispEdges"/>
<rect x="378.95" y="2266.08" width="32.95" height="28.62" fill="#FBB47B" shape-rendering="crispEdges"/>
<rect x="444.85" y="2266.08" width="32.95" height="28.62" fill="#E9545F" shape-rendering="crispEdges"/>
<rect x="477.80" y="2266.08" width="32.95" height="28.62" fill="#FBB47B" shape-rendering="crispEdges"/>
<rect x="510.75" y="2266.08" width="32.95" height="28.62" fill="#FBB47B" shape-rendering="crispEdges"/>
<rect x="543.70" y="2266.08" width="32.95" height="28.62" fill="#FBB47B" shape-rendering="crispEdges"/>
<rect x="609.60" y="2266.08" width="32.95" height="28.62" fill="#FBB47B" shape-rendering="crispEdges"/>
<rect x="214.20" y="2294.70" width="32.95" height="28.62" fill="#E9545F" shape-rendering="crispEdges"/>
<rect x="247.15" y="2294.70" width="32.95" height="28.62" fill="#E9545F" shape-rendering="crispEdges"/>
<rect x="280.10" y="2294.70" width="32.95" height="28.62" fill="#7C2084" shape-rendering="crispEdges"/>
<rect x="313.05" y="2294.70" width="32.95" height="28.62" fill="#FBB47B" shape-rendering="crispEdges"/>
<rect x="346.00" y="2294.70" width="32.95" height="28.62" fill="#7C2084" shape-rendering="crispEdges"/>
<rect x="378.95" y="2294.70" width="32.95" height="28.62" fill="#FBB47B" shape-rendering="crispEdges"/>
<rect x="411.90" y="2294.70" width="32.95" height="28.62" fill="#FBB47B" shape-rendering="crispEdges"/>
<rect x="444.85" y="2294.70" width="32.95" height="28.62" fill="#FBB47B" shape-rendering="crispEdges"/>
<rect x="477.80" y="2294.70" width="32.95" height="28.62" fill="#FBB47B" shape-rendering="crispEdges"/>
<rect x="510.75" y="2294.70" width="32.95" height="28.62" fill="#FBB47B" shape-rendering="crispEdges"/>
<rect x="543.70" y="2294.70" width="32.95" height="28.62" fill="#FBB47B" shape-rendering="crispEdges"/>
<rect x="214.20" y="2323.32" width="32.95" height="28.62" fill="#E9545F" shape-rendering="crispEdges"/>
<rect x="346.00" y="2323.32" width="32.95" height="28.62" fill="#E9545F" shape-rendering="crispEdges"/>
<rect x="378.95" y="2323.32" width="32.95" height="28.62" fill="#FBB47B" shape-rendering="crispEdges"/>
<rect x="411.90" y="2323.32" width="32.95" height="28.62" fill="#FCE3A6" shape-rendering="crispEdges"/>
<rect x="444.85" y="2323.32" width="32.95" height="28.62" fill="#FBB47B" shape-rendering="crispEdges"/>
<rect x="477.80" y="2323.32" width="32.95" height="28.62" fill="#FBB47B" shape-rendering="crispEdges"/>
<rect x="510.75" y="2323.32" width="32.95" height="28.62" fill="#FBB47B" shape-rendering="crispEdges"/>
<rect x="543.70" y="2323.32" width="32.95" height="28.62" fill="#FBB47B" shape-rendering="crispEdges"/>
<rect x="576.65" y="2323.32" width="32.95" height="28.62" fill="#FBB47B" shape-rendering="crispEdges"/>
<rect x="609.60" y="2323.32" width="32.95" height="28.62" fill="#E9545F" shape-rendering="crispEdges"/>
<rect x="642.55" y="2323.32" width="32.95" height="28.62" fill="#FBB47B" shape-rendering="crispEdges"/>
<rect x="675.50" y="2323.32" width="32.95" height="28.62" fill="#FBB47B" shape-rendering="crispEdges"/>
<rect x="708.45" y="2323.32" width="32.95" height="28.62" fill="#E9545F" shape-rendering="crispEdges"/>
<rect x="212.00" y="2006.20" width="564.40" height="347.60" fill="none" stroke="#333" stroke-width="3.6"/>
<text x="203.8" y="2028.2" font-size="17.9" text-anchor="end">Respiration</text>
<text x="203.8" y="2056.8" font-size="17.9" text-anchor="end">Progenitor</text>
<text x="203.8" y="2085.5" font-size="17.9" text-anchor="end">Interferon</text>
<text x="203.8" y="2114.1" font-size="17.9" text-anchor="end">B−cells1</text>
<text x="203.8" y="2142.7" font-size="17.9" text-anchor="end">HSP/Stress</text>
<text x="203.8" y="2171.3" font-size="17.9" text-anchor="end">Germinal Center</text>
<text x="203.8" y="2199.9" font-size="17.9" text-anchor="end">Metabolism/MYC</text>
<text x="203.8" y="2228.6" font-size="17.9" text-anchor="end">Memory</text>
<text x="203.8" y="2257.2" font-size="17.9" text-anchor="end">MHC−II</text>
<text x="203.8" y="2285.8" font-size="17.9" text-anchor="end">Cell−cycle</text>
<text x="203.8" y="2314.4" font-size="17.9" text-anchor="end">Plasma</text>
<text x="203.8" y="2343.0" font-size="17.9" text-anchor="end">Stress</text>
<text transform="translate(236.2,2362.2) rotate(-90)" font-size="18.2" text-anchor="end" textLength="60.8" lengthAdjust="spacingAndGlyphs">NSCLC</text>
<text transform="translate(269.1,2362.2) rotate(-90)" font-size="18.2" text-anchor="end" textLength="66.6" lengthAdjust="spacingAndGlyphs">Colorectal</text>
<text transform="translate(302.1,2362.2) rotate(-90)" font-size="18.2" text-anchor="end" textLength="37.5" lengthAdjust="spacingAndGlyphs">AML</text>
<text transform="translate(335.0,2362.2) rotate(-90)" font-size="18.2" text-anchor="end" textLength="51.9" lengthAdjust="spacingAndGlyphs">Breast</text>
<text transform="translate(368.0,2362.2) rotate(-90)" font-size="18.2" text-anchor="end" textLength="30.2" lengthAdjust="spacingAndGlyphs">MM</text>
<text transform="translate(400.9,2362.2) rotate(-90)" font-size="18.2" text-anchor="end" textLength="49.9" lengthAdjust="spacingAndGlyphs">PDAC</text>
<text transform="translate(433.9,2362.2) rotate(-90)" font-size="18.2" text-anchor="end" textLength="90.2" lengthAdjust="spacingAndGlyphs">Skin (SCC)</text>
<text transform="translate(466.8,2362.2) rotate(-90)" font-size="18.2" text-anchor="end" textLength="84.0" lengthAdjust="spacingAndGlyphs">Melanoma</text>
<text transform="translate(499.8,2362.2) rotate(-90)" font-size="18.2" text-anchor="end" textLength="105.7" lengthAdjust="spacingAndGlyphs">Neuroendocrine</text>
<text transform="translate(532.7,2362.2) rotate(-90)" font-size="18.2" text-anchor="end" textLength="63.1" lengthAdjust="spacingAndGlyphs">Ovarian</text>
<text transform="translate(565.7,2362.2) rotate(-90)" font-size="18.2" text-anchor="end" textLength="39.9" lengthAdjust="spacingAndGlyphs">Liver</text>
<text transform="translate(598.6,2362.2) rotate(-90)" font-size="18.2" text-anchor="end" textLength="46.6" lengthAdjust="spacingAndGlyphs">Renal</text>
<text transform="translate(631.6,2362.2) rotate(-90)" font-size="18.2" text-anchor="end" textLength="53.0" lengthAdjust="spacingAndGlyphs">HNSCC</text>
<text transform="translate(664.5,2362.2) rotate(-90)" font-size="18.2" text-anchor="end" textLength="60.8" lengthAdjust="spacingAndGlyphs">Thyroid</text>
<text transform="translate(697.5,2362.2) rotate(-90)" font-size="18.2" text-anchor="end" textLength="67.0" lengthAdjust="spacingAndGlyphs">Prostate</text>
<text transform="translate(730.4,2362.2) rotate(-90)" font-size="18.2" text-anchor="end" textLength="32.1" lengthAdjust="spacingAndGlyphs">ALL</text>
<text transform="translate(763.4,2362.2) rotate(-90)" font-size="18.2" text-anchor="end" textLength="117.3" lengthAdjust="spacingAndGlyphs">Synovial sarcoma</text>
<rect x="785.00" y="2010.30" width="6.30" height="25.00" fill="#D8D8D9" shape-rendering="crispEdges"/>
<rect x="785.00" y="2038.83" width="20.50" height="25.00" fill="#D8D8D9" shape-rendering="crispEdges"/>
<rect x="785.00" y="2067.36" width="20.50" height="25.00" fill="#D8D8D9" shape-rendering="crispEdges"/>
<rect x="785.00" y="2095.89" width="27.70" height="25.00" fill="#838487" shape-rendering="crispEdges"/>
<rect x="785.00" y="2124.42" width="34.60" height="25.00" fill="#838487" shape-rendering="crispEdges"/>
<rect x="785.00" y="2152.95" width="42.30" height="25.00" fill="#838487" shape-rendering="crispEdges"/>
<rect x="785.00" y="2181.48" width="49.20" height="25.00" fill="#838487" shape-rendering="crispEdges"/>
<rect x="785.00" y="2210.01" width="63.40" height="25.00" fill="#838487" shape-rendering="crispEdges"/>
<rect x="785.00" y="2238.54" width="70.60" height="25.00" fill="#100E0D" shape-rendering="crispEdges"/>
<rect x="785.00" y="2267.07" width="77.80" height="25.00" fill="#100E0D" shape-rendering="crispEdges"/>
<rect x="785.00" y="2295.60" width="77.80" height="25.00" fill="#100E0D" shape-rendering="crispEdges"/>
<rect x="785.00" y="2324.13" width="84.80" height="25.00" fill="#100E0D" shape-rendering="crispEdges"/>
<line x1="785.20" y1="2349.70" x2="785.20" y2="2354.50" stroke="#111" stroke-width="1.3"/>
<text x="786.3" y="2375.8" font-size="16.9" text-anchor="middle">0</text>
<line x1="828.60" y1="2349.70" x2="828.60" y2="2354.50" stroke="#111" stroke-width="1.3"/>
<text x="828.6" y="2375.8" font-size="16.9" text-anchor="middle">6</text>
<line x1="871.50" y1="2349.70" x2="871.50" y2="2354.50" stroke="#111" stroke-width="1.3"/>
<text x="871.7" y="2375.8" font-size="16.9" text-anchor="middle">12</text>
<text x="500.1" y="1996.6" font-size="28.4" text-anchor="middle" textLength="83.4" lengthAdjust="spacingAndGlyphs">B cells</text>
<text x="479.8" y="2507.7" font-size="24.3" text-anchor="middle" textLength="135.6" lengthAdjust="spacingAndGlyphs">Cancer type</text>
<text x="785.2" y="2403.9" font-size="24.2" text-anchor="start" textLength="114.4" lengthAdjust="spacingAndGlyphs">Number of</text>
<text x="785.2" y="2433.5" font-size="24.2" text-anchor="start" textLength="138.3" lengthAdjust="spacingAndGlyphs">cancer types</text>
<text transform="translate(27.5,2179.6) rotate(-90)" font-size="24.7" text-anchor="middle" textLength="168.5" lengthAdjust="spacingAndGlyphs">Meta-programs</text>
<rect x="1121.5" y="2012" width="564.7" height="390.7" fill="none" stroke="#111" stroke-width="3"/>
<rect x="1160.4" y="2038.3" width="31" height="30.5" fill="#7C2084" stroke="#1c1c1c" stroke-width="1.5"/>
<text x="1204.2" y="2061.3" font-size="25.3" text-anchor="start">High (significant)</text>
<rect x="1160.4" y="2114.1" width="31" height="30.5" fill="#E9545F" stroke="#1c1c1c" stroke-width="1.5"/>
<text x="1204.2" y="2137.1" font-size="25.3" text-anchor="start">High</text>
<rect x="1160.4" y="2189.9" width="31" height="30.5" fill="#FBB47B" stroke="#1c1c1c" stroke-width="1.5"/>
<text x="1204.2" y="2212.9" font-size="25.3" text-anchor="start">Medium</text>
<rect x="1160.4" y="2265.7" width="31" height="30.5" fill="#FCE3A6" stroke="#1c1c1c" stroke-width="1.5"/>
<text x="1204.2" y="2288.7" font-size="25.3" text-anchor="start">Low</text>
<rect x="1160.4" y="2341.5" width="31" height="30.5" fill="#fff" stroke="#1c1c1c" stroke-width="1.5"/>
<text x="1204.2" y="2364.5" font-size="25.3" text-anchor="start">Absent</text>
<rect x="1570" y="2041.9" width="31.5" height="31.5" fill="#100E0D" stroke="#1c1c1c" stroke-width="1.5"/>
<text x="1586.0" y="2110.4" font-size="25.3" text-anchor="middle">General</text>
<rect x="1570" y="2167.2" width="31.5" height="31.5" fill="#838487" stroke="#1c1c1c" stroke-width="1.5"/>
<text x="1586.0" y="2237.5" font-size="25.3" text-anchor="middle">Shared</text>
<rect x="1570" y="2292.2" width="31.5" height="31.5" fill="#D8D8D9" stroke="#1c1c1c" stroke-width="1.5"/>
<text x="1586.0" y="2359.1" font-size="25.3" text-anchor="middle">Specific</text>
</svg>
</body></html>
